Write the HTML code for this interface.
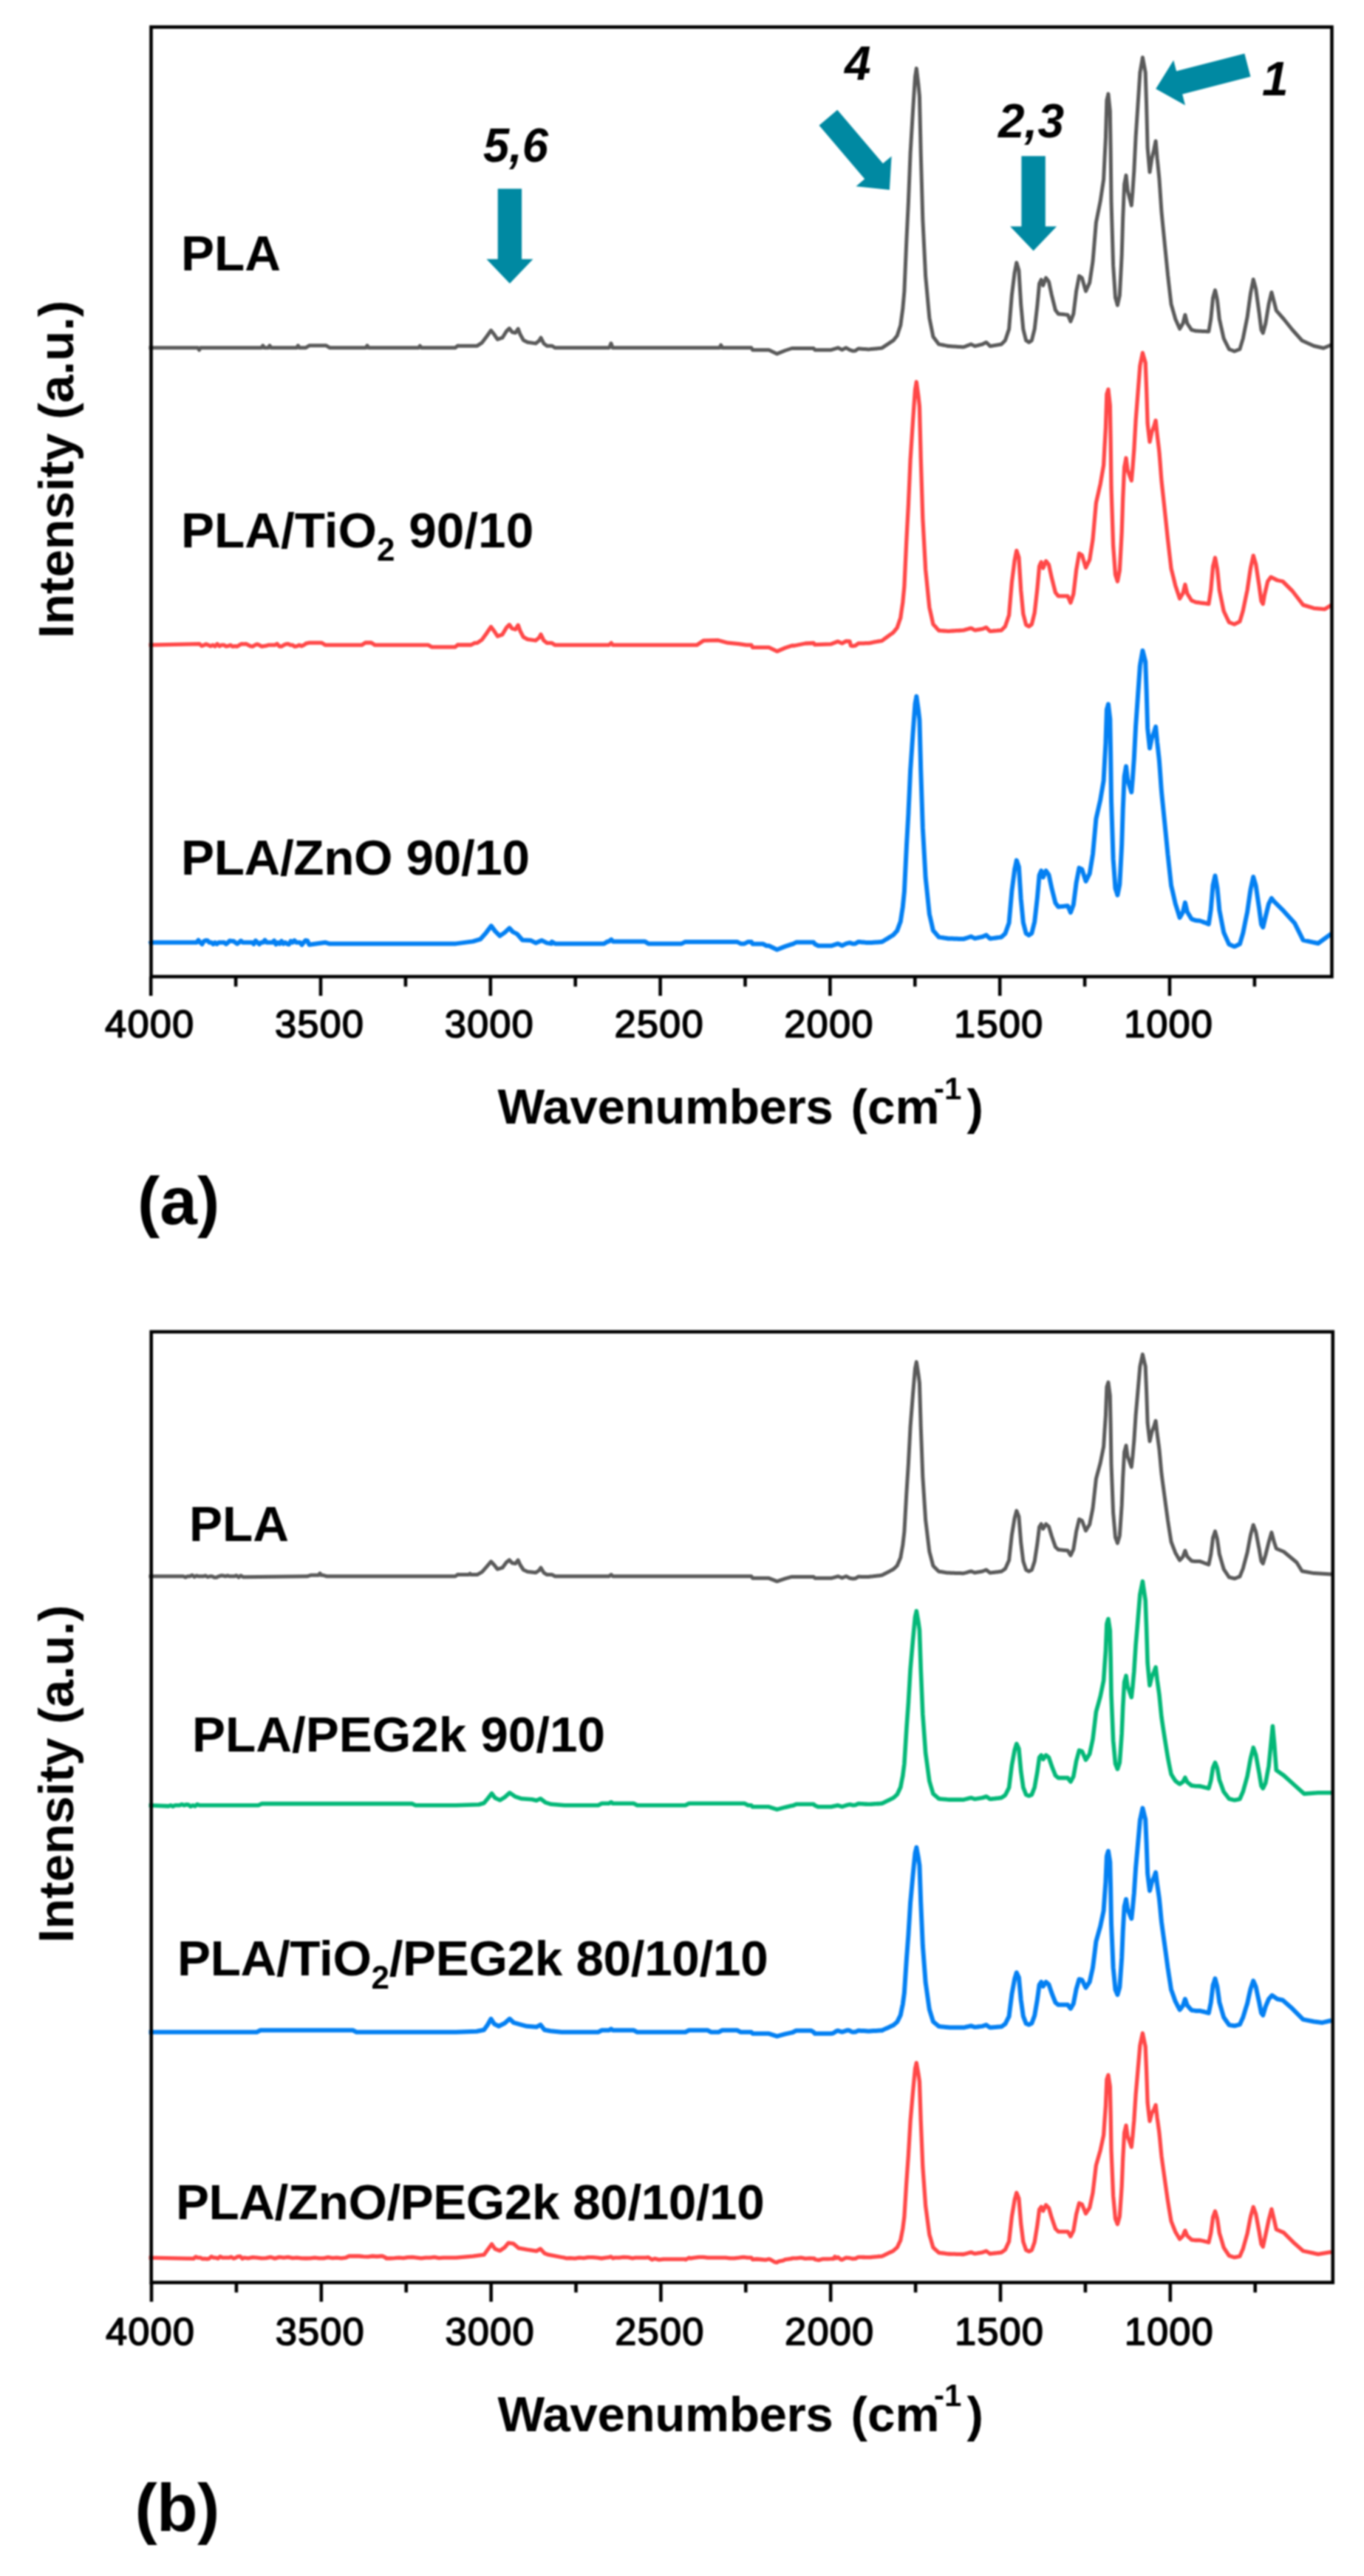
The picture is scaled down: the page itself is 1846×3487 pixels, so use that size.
<!DOCTYPE html>
<html lang="en"><head><meta charset="utf-8"><title>FTIR spectra</title>
<style>html,body{margin:0;padding:0;background:#fff}svg{display:block;filter:blur(1.25px)}text{font-family:"Liberation Sans",Arial,sans-serif;fill:#000}.b{font-weight:bold}.bi{font-weight:bold;font-style:italic}.tk{font-size:52.5px;stroke:#000;stroke-width:1.6px;stroke-linejoin:round;text-anchor:middle;letter-spacing:1.1px}.lb{font-size:67.5px;font-weight:bold}.ax{font-size:67.5px;font-weight:bold}.pn{font-size:91px;font-weight:bold}.nm{font-size:64px;font-weight:bold;font-style:italic}.cv{fill:none;stroke-linejoin:round;stroke-linecap:butt}</style></head><body>
<svg width="1846" height="3487" viewBox="0 0 1846 3487">
<rect width="1846" height="3487" fill="#fff"/>
<g id="plotA">
<path class="cv" d="M201.5 470.8 L267.8 470.8 L269.6 473.8 L271.4 470.8 L354.0 470.8 L355.8 467.8 L357.6 470.8 L363.2 470.8 L365.0 467.8 L366.8 470.8 L401.6 470.8 L403.4 467.8 L405.2 470.8 L413.5 470.8 L418.5 467.8 L441.5 467.8 L446.5 470.8 L495.2 470.8 L497.0 467.8 L498.8 470.8 L566.6 470.8 L568.4 468.2 L570.2 470.8 L616.1 470.8 L619.7 467.9 L620.5 468.2 L645.8 468.2 L652.4 463.8 L659.0 455.0 L664.5 447.3 L668.9 452.8 L673.3 459.4 L679.9 457.2 L685.4 448.4 L689.3 444.6 L693.1 449.5 L697.5 450.6 L701.2 445.1 L704.1 452.8 L708.4 460.5 L713.9 463.3 L724.9 464.9 L729.3 461.6 L732.0 457.2 L735.9 464.9 L740.3 468.2 L746.9 468.2 L751.3 470.8 L823.9 470.8 L825.1 469.9 L826.9 464.8 L827.2 465.2 L828.7 470.0 L829.4 470.8 L860.0 470.8 L973.9 470.8 L975.7 467.2 L977.5 470.8 L1016.8 470.8 L1018.6 473.7 L1040.6 473.7 L1051.6 478.9 L1062.6 474.5 L1071.7 471.5 L1101.1 471.5 L1102.9 473.7 L1124.9 473.7 L1134.1 470.8 L1139.6 473.4 L1145.1 470.8 L1150.0 473.7 L1151.5 474.2 L1153.0 474.7 L1154.2 475.1 L1154.5 475.0 L1156.0 474.9 L1157.5 474.8 L1157.7 474.7 L1159.0 473.8 L1160.5 472.7 L1161.6 471.9 L1162.0 471.9 L1163.5 472.0 L1165.0 472.2 L1166.5 472.3 L1168.0 472.4 L1169.5 472.5 L1171.0 472.6 L1172.5 472.7 L1174.0 472.8 L1175.5 472.9 L1175.7 472.9 L1177.0 472.8 L1178.5 472.6 L1180.0 472.5 L1181.5 472.3 L1183.0 472.2 L1184.5 472.0 L1186.0 471.9 L1187.5 471.7 L1189.0 471.6 L1190.5 471.4 L1192.0 471.3 L1193.5 471.1 L1193.6 471.1 L1195.0 470.2 L1196.5 469.2 L1198.0 468.2 L1199.5 467.2 L1201.0 466.2 L1201.3 466.0 L1202.5 465.2 L1204.0 464.2 L1205.5 463.2 L1207.0 462.2 L1208.5 461.2 L1209.0 460.8 L1210.0 459.6 L1211.5 457.7 L1213.0 455.9 L1214.2 454.4 L1214.5 453.4 L1216.0 448.8 L1217.5 444.2 L1218.8 440.3 L1219.0 438.6 L1220.5 427.3 L1221.9 417.2 L1222.0 415.5 L1223.5 398.7 L1223.9 394.1 L1225.0 368.5 L1226.5 333.5 L1227.0 322.3 L1228.0 301.9 L1229.5 271.9 L1229.5 270.9 L1231.0 234.7 L1232.1 206.8 L1232.5 200.4 L1234.0 175.4 L1235.5 150.4 L1236.0 142.6 L1237.0 127.1 L1238.5 104.6 L1238.5 104.2 L1240.0 94.7 L1240.3 92.6 L1241.5 102.6 L1242.9 114.4 L1243.0 115.5 L1244.4 129.8 L1244.5 132.7 L1246.0 197.0 L1246.2 206.8 L1247.5 251.3 L1248.8 296.6 L1249.0 300.7 L1250.5 330.7 L1252.0 360.7 L1252.6 373.6 L1253.5 383.0 L1255.0 399.5 L1256.5 416.0 L1257.8 430.0 L1258.0 431.2 L1259.5 438.7 L1261.0 446.2 L1262.5 453.7 L1262.9 455.7 L1264.0 457.2 L1265.5 459.2 L1267.0 461.2 L1268.5 463.2 L1270.0 465.2 L1270.6 466.0 L1271.5 466.1 L1273.0 466.4 L1274.5 466.7 L1276.0 467.0 L1277.5 467.3 L1279.0 467.6 L1280.5 467.9 L1282.0 468.2 L1283.4 468.5 L1283.5 468.5 L1285.0 468.6 L1286.5 468.7 L1288.0 468.8 L1289.5 468.9 L1291.0 469.0 L1292.5 469.1 L1294.0 469.2 L1295.5 469.3 L1297.0 469.4 L1298.5 469.5 L1300.0 469.6 L1301.5 469.7 L1303.0 469.8 L1304.0 469.8 L1304.5 469.6 L1306.0 469.1 L1307.5 468.5 L1309.0 467.9 L1310.5 467.4 L1312.0 466.8 L1313.5 466.2 L1314.2 466.0 L1315.0 466.4 L1316.5 467.1 L1318.0 467.9 L1319.4 468.5 L1319.5 468.5 L1321.0 468.1 L1322.5 467.8 L1324.0 467.4 L1325.5 467.0 L1327.0 466.6 L1328.5 466.3 L1329.6 466.0 L1330.0 465.8 L1331.5 465.0 L1333.0 464.3 L1334.5 463.5 L1334.8 463.4 L1336.0 464.6 L1337.5 466.1 L1339.0 467.6 L1339.9 468.5 L1340.5 468.4 L1342.0 468.2 L1343.5 467.9 L1345.0 467.7 L1346.5 467.4 L1348.0 467.2 L1349.5 466.9 L1351.0 466.7 L1352.5 466.4 L1354.0 466.2 L1355.3 466.0 L1355.5 465.8 L1357.0 464.3 L1358.5 462.8 L1360.0 461.3 L1360.4 460.8 L1361.5 457.6 L1363.0 453.1 L1364.5 448.6 L1365.6 445.4 L1366.0 440.0 L1367.5 422.0 L1369.0 404.0 L1369.4 399.3 L1370.5 390.4 L1372.0 378.4 L1373.2 368.5 L1373.5 367.2 L1375.0 359.7 L1375.8 355.6 L1376.5 357.9 L1378.0 362.9 L1378.9 365.9 L1379.5 375.8 L1381.0 400.4 L1381.7 412.1 L1382.5 420.6 L1384.0 436.8 L1384.8 445.4 L1385.5 448.3 L1387.0 454.3 L1388.5 460.3 L1388.6 460.8 L1390.0 461.7 L1391.5 462.7 L1392.5 463.4 L1393.0 463.1 L1394.5 462.1 L1396.0 461.1 L1396.3 460.8 L1397.5 456.2 L1399.0 450.2 L1400.2 445.4 L1400.5 442.8 L1402.0 429.8 L1403.5 416.8 L1404.0 412.1 L1405.0 401.5 L1406.5 385.0 L1406.6 383.9 L1408.0 381.1 L1409.2 378.7 L1409.5 379.7 L1411.0 384.2 L1411.7 386.4 L1412.5 384.4 L1414.0 380.4 L1415.5 376.4 L1415.6 376.2 L1417.0 378.0 L1418.5 380.0 L1419.4 381.3 L1420.0 383.9 L1421.5 390.9 L1423.0 397.9 L1423.3 399.3 L1424.5 404.1 L1426.0 410.1 L1427.5 416.1 L1428.4 419.8 L1429.0 420.6 L1430.5 422.6 L1432.0 424.6 L1432.3 424.9 L1433.5 425.0 L1435.0 425.2 L1436.5 425.3 L1438.0 425.5 L1439.5 425.6 L1441.0 425.8 L1442.5 425.9 L1444.0 426.1 L1445.1 426.2 L1445.5 427.1 L1447.0 430.6 L1448.5 434.1 L1448.9 435.2 L1450.0 432.4 L1451.5 428.4 L1452.8 424.9 L1453.0 423.3 L1454.5 411.3 L1456.0 399.3 L1456.6 394.1 L1457.5 389.6 L1459.0 381.6 L1460.5 373.6 L1460.5 373.6 L1462.0 374.6 L1463.5 375.6 L1464.3 376.2 L1465.0 378.5 L1466.5 383.7 L1468.0 389.0 L1469.5 394.1 L1469.5 394.1 L1471.0 390.8 L1472.5 387.4 L1474.0 384.1 L1474.7 382.6 L1475.5 377.2 L1477.0 367.2 L1478.5 357.2 L1479.0 353.6 L1480.0 342.0 L1481.5 324.0 L1483.0 306.0 L1483.4 301.3 L1484.5 295.8 L1486.0 288.3 L1487.5 280.8 L1489.0 273.3 L1489.2 272.3 L1490.5 263.6 L1492.0 253.6 L1493.5 243.6 L1493.6 243.3 L1495.0 214.3 L1496.5 185.2 L1496.5 183.7 L1497.9 135.8 L1498.0 135.4 L1499.5 129.0 L1499.9 127.1 L1501.0 137.7 L1502.3 150.3 L1502.5 163.7 L1503.1 199.7 L1504.0 271.7 L1504.0 272.3 L1505.5 322.1 L1506.6 359.4 L1507.0 365.1 L1508.5 387.6 L1509.5 403.0 L1510.0 404.6 L1511.5 409.9 L1512.4 413.1 L1513.0 410.5 L1514.5 403.8 L1515.3 400.0 L1516.0 387.3 L1517.5 358.8 L1518.2 344.9 L1519.0 318.9 L1519.7 295.5 L1520.5 276.9 L1521.7 249.1 L1522.0 247.7 L1523.5 240.2 L1524.0 237.4 L1525.0 247.0 L1526.1 257.8 L1526.5 259.4 L1528.0 265.0 L1528.4 266.5 L1529.5 270.9 L1531.0 276.9 L1531.3 278.1 L1532.5 263.7 L1532.8 260.7 L1534.0 242.9 L1534.8 231.6 L1535.5 217.3 L1537.0 187.3 L1537.1 185.2 L1538.5 164.3 L1540.0 141.8 L1540.0 141.6 L1541.5 119.3 L1542.9 98.1 L1543.0 97.6 L1544.5 88.8 L1546.0 80.1 L1546.4 77.7 L1547.5 83.7 L1549.0 91.7 L1550.2 98.1 L1550.5 107.8 L1551.6 141.6 L1552.0 156.6 L1553.1 199.7 L1553.5 204.6 L1555.0 221.8 L1556.0 233.1 L1556.5 229.7 L1558.0 220.0 L1558.9 214.2 L1559.5 211.8 L1561.0 205.8 L1561.8 202.6 L1562.5 199.0 L1564.0 191.5 L1564.1 191.0 L1565.5 206.9 L1566.1 214.2 L1567.0 222.8 L1568.5 237.8 L1569.0 243.3 L1570.0 257.5 L1571.5 280.0 L1572.0 286.8 L1573.0 297.3 L1574.5 312.3 L1576.0 327.3 L1576.3 330.4 L1577.5 342.3 L1579.0 357.3 L1580.5 372.3 L1580.7 373.9 L1582.0 385.5 L1583.5 398.5 L1585.0 411.5 L1585.0 411.7 L1586.5 416.8 L1588.0 422.1 L1589.5 427.3 L1590.8 432.0 L1591.0 432.4 L1592.5 435.8 L1594.0 439.1 L1595.5 442.5 L1596.6 445.1 L1597.0 444.4 L1598.5 441.9 L1600.0 439.4 L1601.0 437.8 L1601.5 435.7 L1603.0 429.7 L1603.9 426.2 L1604.5 428.6 L1606.0 434.6 L1606.8 437.8 L1607.5 438.9 L1609.0 441.1 L1610.5 443.4 L1612.0 445.6 L1612.6 446.5 L1613.5 446.7 L1615.0 447.1 L1616.5 447.5 L1618.0 447.9 L1618.4 448.0 L1619.5 448.0 L1621.0 448.1 L1622.5 448.2 L1624.0 448.2 L1624.2 448.2 L1625.5 448.3 L1627.0 448.4 L1628.5 448.5 L1630.0 448.5 L1631.5 448.6 L1633.0 448.7 L1634.5 448.8 L1635.8 448.8 L1636.0 447.8 L1637.5 439.1 L1638.7 432.0 L1639.0 429.3 L1640.5 414.3 L1641.6 403.0 L1642.0 401.7 L1643.5 396.4 L1644.5 392.8 L1645.0 394.9 L1646.5 401.6 L1647.4 405.9 L1648.0 410.9 L1649.5 424.4 L1650.3 432.0 L1651.0 434.9 L1652.5 441.7 L1654.0 448.4 L1655.5 455.2 L1656.2 458.1 L1657.0 459.8 L1658.5 462.8 L1660.0 465.8 L1661.5 468.8 L1663.0 471.8 L1663.4 472.6 L1664.5 473.1 L1666.0 473.7 L1667.5 474.3 L1669.0 474.9 L1670.5 475.5 L1670.7 475.5 L1672.0 475.0 L1673.5 474.4 L1675.0 473.8 L1676.5 473.2 L1677.9 472.6 L1678.0 472.4 L1679.5 467.4 L1681.0 462.4 L1682.3 458.1 L1682.5 457.1 L1684.0 449.6 L1685.5 442.1 L1687.0 434.6 L1688.1 429.1 L1688.5 426.1 L1690.0 415.1 L1691.5 404.1 L1692.5 397.1 L1693.0 394.4 L1694.5 386.9 L1696.0 379.4 L1696.2 378.3 L1697.5 383.0 L1699.0 388.7 L1699.7 391.3 L1700.5 397.1 L1702.0 408.1 L1703.5 419.1 L1704.1 423.3 L1705.0 430.8 L1706.5 442.8 L1707.0 446.5 L1708.0 448.4 L1709.3 450.9 L1712.8 437.8 L1717.1 411.7 L1720.9 395.7 L1724.4 408.8 L1727.3 420.4 L1737.5 432.0 L1749.1 446.5 L1762.1 461.0 L1778.1 468.3 L1791.2 471.2 L1801.9 466.8" stroke="#5a5a5a" stroke-width="5.0"/>
<path class="cv" d="M201.5 873.2 L270.0 871.6 L273.0 874.4 L276.0 873.2 L279.0 872.0 L282.0 873.2 L285.0 874.7 L288.0 873.2 L291.0 874.8 L294.0 871.7 L297.0 874.7 L300.0 873.2 L303.0 873.2 L306.0 874.8 L309.0 874.3 L312.0 873.2 L315.0 875.2 L318.0 874.7 L321.0 875.1 L324.0 873.2 L327.0 871.6 L330.0 871.8 L333.0 871.7 L336.0 873.2 L339.0 874.7 L342.0 875.1 L345.0 873.2 L348.0 872.1 L351.0 873.2 L354.0 875.0 L357.0 874.6 L360.0 874.2 L363.0 873.2 L366.0 873.2 L369.0 873.2 L372.0 873.2 L375.0 871.4 L378.0 874.8 L381.0 875.0 L384.0 873.2 L387.0 871.9 L390.0 871.7 L393.0 873.2 L396.0 873.2 L399.0 875.2 L402.0 874.6 L405.0 873.2 L408.0 874.5 L411.0 873.2 L413.5 871.8 L414.0 871.1 L418.5 870.2 L435.5 870.2 L440.5 873.2 L489.5 873.2 L494.5 870.0 L502.5 870.0 L507.5 873.2 L579.5 873.2 L584.5 875.8 L616.1 875.8 L619.7 872.7 L620.5 873.0 L637.5 873.0 L642.5 870.4 L645.8 870.4 L652.4 865.8 L659.0 856.6 L664.5 848.5 L668.9 854.3 L673.3 861.2 L679.9 858.9 L685.4 849.7 L689.3 845.7 L693.1 850.8 L697.5 852.0 L701.2 846.2 L704.1 854.3 L708.4 862.4 L713.9 865.4 L724.9 867.0 L729.3 863.5 L732.0 858.9 L735.9 867.0 L740.3 870.4 L746.9 870.4 L751.3 873.2 L823.9 873.2 L827.2 870.4 L829.4 873.2 L860.0 873.2 L943.0 873.2 L952.0 867.2 L972.0 866.7 L985.0 870.2 L1000.0 871.7 L1010.0 873.2 L1016.8 873.2 L1018.6 876.3 L1040.6 876.3 L1051.6 881.7 L1062.6 877.0 L1071.7 874.0 L1075.0 874.0 L1090.0 871.0 L1101.1 870.5 L1102.9 872.7 L1124.9 871.8 L1134.1 868.3 L1139.6 870.8 L1145.1 867.9 L1150.0 868.2 L1151.5 874.0 L1153.0 874.3 L1154.2 874.5 L1154.5 874.5 L1156.0 874.2 L1157.5 874.0 L1157.7 873.9 L1159.0 872.9 L1160.5 871.8 L1161.6 871.0 L1162.0 871.0 L1163.5 870.9 L1165.0 870.9 L1166.5 870.8 L1168.0 870.8 L1169.5 870.8 L1171.0 870.7 L1172.5 870.7 L1174.0 870.6 L1175.5 870.6 L1175.7 870.6 L1177.0 870.3 L1178.5 870.1 L1180.0 869.8 L1181.5 869.5 L1183.0 869.2 L1184.5 868.9 L1186.0 868.7 L1187.5 868.4 L1189.0 868.1 L1190.5 867.8 L1192.0 867.6 L1193.5 867.3 L1193.6 867.3 L1195.0 866.3 L1196.5 865.2 L1198.0 864.1 L1199.5 863.0 L1201.0 861.9 L1201.3 861.7 L1202.5 860.8 L1204.0 859.7 L1205.5 858.6 L1207.0 857.6 L1208.5 856.5 L1209.0 856.1 L1210.0 854.9 L1211.5 853.0 L1213.0 851.1 L1214.2 849.7 L1214.5 848.6 L1216.0 844.3 L1217.5 839.9 L1218.8 836.3 L1219.0 834.7 L1220.5 824.2 L1221.9 814.9 L1222.0 813.3 L1223.5 797.8 L1223.9 793.6 L1225.0 770.1 L1226.5 738.1 L1227.0 727.8 L1228.0 709.1 L1229.5 681.6 L1229.5 680.7 L1231.0 647.5 L1232.1 622.0 L1232.5 616.1 L1234.0 593.1 L1235.5 570.2 L1236.0 563.1 L1237.0 548.8 L1238.5 528.1 L1238.5 527.7 L1240.0 518.9 L1240.3 517.0 L1241.5 525.8 L1242.9 536.2 L1243.0 537.1 L1244.4 549.8 L1244.5 552.5 L1246.0 610.8 L1246.2 619.7 L1247.5 660.1 L1248.8 701.3 L1249.0 705.0 L1250.5 732.2 L1252.0 759.4 L1252.6 771.0 L1253.5 779.5 L1255.0 794.4 L1256.5 809.4 L1257.8 822.1 L1258.0 823.1 L1259.5 829.7 L1261.0 836.4 L1262.5 843.2 L1262.9 845.0 L1264.0 846.2 L1265.5 847.8 L1267.0 849.5 L1268.5 851.2 L1270.0 852.8 L1270.6 853.5 L1271.5 853.6 L1273.0 853.7 L1274.5 853.8 L1276.0 853.9 L1277.5 854.0 L1279.0 854.1 L1280.5 854.2 L1282.0 854.3 L1283.4 854.4 L1283.5 854.4 L1285.0 854.3 L1286.5 854.2 L1288.0 854.1 L1289.5 854.0 L1291.0 853.9 L1292.5 853.8 L1294.0 853.7 L1295.5 853.6 L1297.0 853.6 L1298.5 853.5 L1300.0 853.4 L1301.5 853.3 L1303.0 853.2 L1304.0 853.1 L1304.5 853.0 L1306.0 852.6 L1307.5 852.1 L1309.0 851.7 L1310.5 851.3 L1312.0 850.9 L1313.5 850.5 L1314.2 850.3 L1315.0 850.7 L1316.5 851.5 L1318.0 852.3 L1319.4 853.0 L1319.5 853.0 L1321.0 852.8 L1322.5 852.5 L1324.0 852.3 L1325.5 852.0 L1327.0 851.8 L1328.5 851.5 L1329.6 851.3 L1330.0 851.2 L1331.5 850.6 L1333.0 850.0 L1334.5 849.4 L1334.8 849.3 L1336.0 850.5 L1337.5 852.1 L1339.0 853.6 L1339.9 854.5 L1340.5 854.4 L1342.0 854.3 L1343.5 854.2 L1345.0 854.0 L1346.5 853.9 L1348.0 853.8 L1349.5 853.7 L1351.0 853.5 L1352.5 853.4 L1354.0 853.3 L1355.3 853.1 L1355.5 852.9 L1357.0 851.4 L1358.5 849.8 L1360.0 848.3 L1360.4 847.9 L1361.5 844.7 L1363.0 840.3 L1364.5 835.8 L1365.6 832.7 L1366.0 827.5 L1367.5 810.1 L1369.0 792.7 L1369.4 788.0 L1370.5 779.5 L1372.0 767.8 L1373.2 758.0 L1373.5 756.8 L1375.0 749.4 L1375.8 745.4 L1376.5 747.4 L1378.0 751.9 L1378.9 754.6 L1379.5 764.0 L1381.0 787.6 L1381.7 798.9 L1382.5 807.0 L1384.0 822.7 L1384.8 831.0 L1385.5 833.7 L1387.0 839.4 L1388.5 845.2 L1388.6 845.8 L1390.0 846.6 L1391.5 847.4 L1392.5 848.0 L1393.0 847.6 L1394.5 846.5 L1396.0 845.4 L1396.3 845.2 L1397.5 840.5 L1399.0 834.4 L1400.2 829.5 L1400.5 826.8 L1402.0 813.5 L1403.5 800.3 L1404.0 795.4 L1405.0 784.6 L1406.5 767.7 L1406.6 766.5 L1408.0 763.4 L1409.2 760.8 L1409.5 761.8 L1411.0 766.7 L1411.7 769.0 L1412.5 767.1 L1414.0 763.4 L1415.5 759.7 L1415.6 759.5 L1417.0 761.2 L1418.5 763.1 L1419.4 764.3 L1420.0 766.8 L1421.5 773.7 L1423.0 780.6 L1423.3 781.9 L1424.5 786.7 L1426.0 792.6 L1427.5 798.5 L1428.4 802.1 L1429.0 802.8 L1430.5 804.7 L1432.0 806.6 L1432.3 806.9 L1433.5 806.9 L1435.0 806.9 L1436.5 806.9 L1438.0 806.9 L1439.5 806.9 L1441.0 806.9 L1442.5 806.9 L1444.0 806.9 L1445.1 806.9 L1445.5 807.9 L1447.0 811.4 L1448.5 814.9 L1448.9 815.9 L1450.0 812.7 L1451.5 808.1 L1452.8 804.1 L1453.0 802.4 L1454.5 789.7 L1456.0 777.0 L1456.6 771.5 L1457.5 766.6 L1459.0 757.9 L1460.5 749.2 L1460.5 749.2 L1462.0 750.0 L1463.5 750.9 L1464.3 751.3 L1465.0 753.5 L1466.5 758.6 L1468.0 763.6 L1469.5 768.5 L1469.5 768.4 L1471.0 765.2 L1472.5 762.1 L1474.0 759.0 L1474.7 757.6 L1475.5 752.3 L1477.0 742.8 L1478.5 733.3 L1479.0 730.0 L1480.0 719.0 L1481.5 702.0 L1483.0 685.2 L1483.4 680.9 L1484.5 675.9 L1486.0 669.3 L1487.5 662.7 L1489.0 656.2 L1489.2 655.3 L1490.5 647.7 L1492.0 639.0 L1493.5 630.4 L1493.6 630.1 L1495.0 604.0 L1496.5 577.9 L1496.5 576.6 L1497.9 533.6 L1498.0 533.3 L1499.5 528.5 L1499.9 527.1 L1501.0 537.1 L1502.3 548.9 L1502.5 561.1 L1503.1 593.9 L1504.0 659.4 L1504.0 659.9 L1505.5 705.1 L1506.6 738.8 L1507.0 744.0 L1508.5 764.2 L1509.5 778.0 L1510.0 779.5 L1511.5 784.1 L1512.4 787.0 L1513.0 784.1 L1514.5 776.5 L1515.3 772.3 L1516.0 760.2 L1517.5 733.4 L1518.2 720.2 L1519.0 696.4 L1519.7 675.1 L1520.5 657.9 L1521.7 632.2 L1522.0 630.7 L1523.5 622.9 L1524.0 620.0 L1525.0 627.8 L1526.1 636.5 L1526.5 637.6 L1528.0 641.5 L1528.4 642.5 L1529.5 645.6 L1531.0 649.7 L1531.3 650.5 L1532.5 637.6 L1532.8 634.9 L1534.0 619.2 L1534.8 609.3 L1535.5 596.9 L1537.0 570.9 L1537.1 569.0 L1538.5 551.0 L1540.0 531.8 L1540.0 531.6 L1541.5 512.6 L1542.9 494.7 L1543.0 494.3 L1544.5 487.0 L1546.0 479.7 L1546.4 477.7 L1547.5 481.6 L1549.0 486.8 L1550.2 490.9 L1550.5 498.7 L1551.6 525.8 L1552.0 538.0 L1553.1 573.0 L1553.5 576.7 L1555.0 589.7 L1556.0 598.2 L1556.5 595.8 L1558.0 588.8 L1558.9 584.7 L1559.5 583.1 L1561.0 579.2 L1561.8 577.2 L1562.5 574.8 L1564.0 569.6 L1564.1 569.2 L1565.5 582.3 L1566.1 588.4 L1567.0 595.6 L1568.5 608.3 L1569.0 613.0 L1570.0 625.3 L1571.5 645.1 L1572.0 651.0 L1573.0 660.4 L1574.5 674.0 L1576.0 687.8 L1576.3 690.7 L1577.5 701.8 L1579.0 716.0 L1580.5 730.4 L1580.7 731.9 L1582.0 743.3 L1583.5 756.2 L1585.0 769.3 L1585.0 769.5 L1586.5 775.3 L1588.0 781.4 L1589.5 787.5 L1590.8 792.9 L1591.0 793.4 L1592.5 797.8 L1594.0 802.3 L1595.5 806.8 L1596.6 810.2 L1597.0 809.6 L1598.5 807.2 L1600.0 804.7 L1601.0 803.1 L1601.5 801.1 L1603.0 795.0 L1603.9 791.3 L1604.5 793.9 L1606.0 800.1 L1606.8 803.4 L1607.5 804.6 L1609.0 807.0 L1610.5 809.5 L1612.0 811.9 L1612.6 812.9 L1613.5 813.3 L1615.0 813.8 L1616.5 814.4 L1618.0 814.9 L1618.4 815.1 L1619.5 815.3 L1621.0 815.5 L1622.5 815.7 L1624.0 816.0 L1624.2 816.0 L1625.5 816.2 L1627.0 816.4 L1628.5 816.5 L1630.0 816.7 L1631.5 816.9 L1633.0 817.1 L1634.5 817.3 L1635.8 817.5 L1636.0 816.4 L1637.5 806.8 L1638.7 798.9 L1639.0 796.0 L1640.5 779.4 L1641.6 766.7 L1642.0 765.3 L1643.5 759.3 L1644.5 755.0 L1645.0 757.4 L1646.5 765.2 L1647.4 770.0 L1648.0 775.6 L1649.5 790.5 L1650.3 798.9 L1651.0 802.1 L1652.5 809.5 L1654.0 816.8 L1655.5 824.1 L1656.2 827.2 L1657.0 829.0 L1658.5 832.2 L1660.0 835.3 L1661.5 838.5 L1663.0 841.5 L1663.4 842.4 L1664.5 842.8 L1666.0 843.3 L1667.5 843.9 L1669.0 844.4 L1670.5 845.0 L1670.7 845.1 L1672.0 844.3 L1673.5 843.5 L1675.0 842.8 L1676.5 842.0 L1677.9 841.2 L1678.0 841.0 L1679.5 835.9 L1681.0 830.9 L1682.3 826.6 L1682.5 825.6 L1684.0 818.3 L1685.5 811.0 L1687.0 803.8 L1688.1 798.7 L1688.5 795.9 L1690.0 785.6 L1691.5 775.4 L1692.5 769.0 L1693.0 766.5 L1694.5 759.8 L1696.0 753.1 L1696.2 752.1 L1697.5 756.4 L1699.0 761.4 L1699.7 763.8 L1700.5 769.0 L1702.0 779.0 L1703.5 788.9 L1704.1 792.7 L1705.0 799.5 L1706.5 810.3 L1707.0 813.7 L1708.0 815.4 L1709.3 817.5 L1711.3 805.9 L1715.7 787.0 L1720.0 781.2 L1728.7 785.5 L1736.0 787.0 L1749.1 800.0 L1763.6 818.9 L1778.1 823.3 L1792.6 824.7 L1801.9 818.9" stroke="#ff4848" stroke-width="5.3"/>
<path class="cv" d="M201.5 1277.4 L201.5 1277.4 L206.5 1275.8 L266.0 1275.8 L268.5 1272.7 L271.0 1275.8 L273.5 1278.0 L276.0 1274.0 L278.5 1273.1 L281.0 1273.3 L283.5 1275.8 L286.0 1275.8 L288.5 1278.0 L291.0 1275.8 L293.5 1277.8 L296.0 1275.8 L298.5 1275.8 L301.0 1275.8 L303.5 1275.8 L306.0 1277.8 L308.5 1275.8 L311.0 1273.5 L313.5 1273.9 L316.0 1273.9 L318.5 1275.8 L321.0 1277.5 L323.5 1275.8 L326.0 1273.6 L328.5 1275.8 L331.0 1275.8 L333.5 1275.8 L336.0 1275.8 L338.5 1275.8 L341.0 1275.8 L343.5 1277.9 L346.0 1273.3 L348.5 1275.8 L351.0 1278.1 L353.5 1275.8 L356.0 1275.8 L358.5 1272.6 L361.0 1275.8 L363.5 1275.8 L366.0 1275.8 L368.5 1275.8 L371.0 1273.4 L373.5 1278.3 L376.0 1275.8 L378.5 1277.5 L381.0 1273.9 L383.5 1277.6 L386.0 1275.8 L388.5 1277.6 L391.0 1278.3 L393.5 1273.9 L396.0 1275.8 L398.5 1273.1 L401.0 1275.8 L403.5 1275.8 L406.0 1275.8 L408.5 1278.9 L411.0 1275.8 L413.5 1273.0 L416.0 1273.4 L418.5 1278.7 L440.5 1275.8 L445.5 1277.4 L616.1 1277.4 L617.0 1277.4 L640.0 1274.4 L650.0 1271.4 L658.0 1262.4 L664.8 1253.4 L670.0 1260.4 L676.5 1266.9 L683.0 1262.4 L689.4 1256.4 L694.0 1261.4 L700.0 1264.4 L707.0 1272.4 L718.0 1272.9 L725.0 1276.4 L733.0 1272.9 L740.0 1276.4 L746.0 1277.4 L746.9 1274.8 L751.3 1277.4 L817.5 1277.4 L822.5 1274.4 L823.9 1274.4 L827.2 1271.8 L829.4 1274.4 L860.0 1274.4 L872.5 1274.4 L877.5 1277.4 L922.5 1277.4 L927.5 1274.9 L997.5 1274.9 L1002.5 1277.4 L1007.5 1277.4 L1012.5 1274.9 L1016.8 1274.9 L1018.6 1277.8 L1032.5 1277.8 L1037.5 1280.3 L1040.6 1280.3 L1051.6 1285.5 L1062.6 1281.1 L1071.7 1278.1 L1072.5 1278.1 L1077.5 1275.6 L1101.1 1275.6 L1102.5 1277.3 L1102.9 1278.0 L1107.5 1280.3 L1124.9 1280.3 L1134.1 1277.4 L1139.6 1280.0 L1145.1 1277.4 L1150.0 1276.2 L1151.5 1276.7 L1153.0 1277.2 L1154.2 1277.5 L1154.5 1277.5 L1156.0 1277.4 L1157.5 1277.4 L1157.7 1277.3 L1159.0 1276.5 L1160.5 1275.6 L1161.6 1275.0 L1162.0 1275.0 L1163.5 1275.1 L1165.0 1275.2 L1166.5 1275.4 L1168.0 1275.5 L1169.5 1275.6 L1171.0 1275.8 L1172.5 1275.9 L1174.0 1276.0 L1175.5 1276.1 L1175.7 1276.1 L1177.0 1276.1 L1178.5 1276.0 L1180.0 1275.9 L1181.5 1275.8 L1183.0 1275.7 L1184.5 1275.6 L1186.0 1275.5 L1187.5 1275.4 L1189.0 1275.3 L1190.5 1275.2 L1192.0 1275.1 L1193.5 1275.0 L1193.6 1274.9 L1195.0 1274.1 L1196.5 1273.2 L1198.0 1272.3 L1199.5 1271.4 L1201.0 1270.5 L1201.3 1270.3 L1202.5 1269.6 L1204.0 1268.6 L1205.5 1267.7 L1207.0 1266.8 L1208.5 1265.9 L1209.0 1265.6 L1210.0 1264.5 L1211.5 1262.8 L1213.0 1261.1 L1214.2 1259.9 L1214.5 1258.9 L1216.0 1254.9 L1217.5 1250.8 L1218.8 1247.4 L1219.0 1245.9 L1220.5 1236.0 L1221.9 1227.1 L1222.0 1225.6 L1223.5 1210.8 L1223.9 1206.9 L1225.0 1184.4 L1226.5 1153.8 L1227.0 1143.9 L1228.0 1126.1 L1229.5 1099.8 L1229.5 1098.9 L1231.0 1067.2 L1232.1 1042.8 L1232.5 1037.1 L1234.0 1015.2 L1235.5 993.3 L1236.0 986.5 L1237.0 972.9 L1238.5 953.2 L1238.5 952.8 L1240.0 944.5 L1240.3 942.6 L1241.5 951.1 L1242.9 961.2 L1243.0 962.1 L1244.4 974.4 L1244.5 977.0 L1246.0 1033.1 L1246.2 1041.6 L1247.5 1080.6 L1248.8 1120.2 L1249.0 1123.8 L1250.5 1150.0 L1252.0 1176.3 L1252.6 1187.6 L1253.5 1195.8 L1255.0 1210.3 L1256.5 1224.8 L1257.8 1237.1 L1258.0 1238.1 L1259.5 1244.7 L1261.0 1251.2 L1262.5 1257.8 L1262.9 1259.6 L1264.0 1260.9 L1265.5 1262.6 L1267.0 1264.3 L1268.5 1266.1 L1270.0 1267.8 L1270.6 1268.5 L1271.5 1268.6 L1273.0 1268.9 L1274.5 1269.1 L1276.0 1269.3 L1277.5 1269.6 L1279.0 1269.8 L1280.5 1270.0 L1282.0 1270.2 L1283.4 1270.5 L1283.5 1270.5 L1285.0 1270.5 L1286.5 1270.6 L1288.0 1270.6 L1289.5 1270.6 L1291.0 1270.7 L1292.5 1270.7 L1294.0 1270.8 L1295.5 1270.8 L1297.0 1270.9 L1298.5 1270.9 L1300.0 1271.0 L1301.5 1271.0 L1303.0 1271.1 L1304.0 1271.1 L1304.5 1270.9 L1306.0 1270.4 L1307.5 1270.0 L1309.0 1269.5 L1310.5 1269.0 L1312.0 1268.5 L1313.5 1268.0 L1314.2 1267.8 L1315.0 1268.2 L1316.5 1268.9 L1318.0 1269.6 L1319.4 1270.2 L1319.5 1270.2 L1321.0 1269.9 L1322.5 1269.6 L1324.0 1269.3 L1325.5 1268.9 L1327.0 1268.6 L1328.5 1268.3 L1329.6 1268.1 L1330.0 1267.9 L1331.5 1267.2 L1333.0 1266.6 L1334.5 1265.9 L1334.8 1265.8 L1336.0 1267.0 L1337.5 1268.4 L1339.0 1269.8 L1339.9 1270.6 L1340.5 1270.5 L1342.0 1270.3 L1343.5 1270.1 L1345.0 1269.9 L1346.5 1269.7 L1348.0 1269.5 L1349.5 1269.3 L1351.0 1269.1 L1352.5 1268.9 L1354.0 1268.7 L1355.3 1268.5 L1355.5 1268.3 L1357.0 1266.9 L1358.5 1265.5 L1360.0 1264.1 L1360.4 1263.8 L1361.5 1260.7 L1363.0 1256.5 L1364.5 1252.3 L1365.6 1249.3 L1366.0 1244.3 L1367.5 1227.4 L1369.0 1210.4 L1369.4 1205.9 L1370.5 1197.6 L1372.0 1186.3 L1373.2 1176.8 L1373.5 1175.6 L1375.0 1168.5 L1375.8 1164.6 L1376.5 1166.6 L1378.0 1170.9 L1378.9 1173.5 L1379.5 1182.8 L1381.0 1205.9 L1381.7 1217.0 L1382.5 1225.0 L1384.0 1240.5 L1384.8 1248.8 L1385.5 1251.4 L1387.0 1257.2 L1388.5 1263.0 L1388.6 1263.5 L1390.0 1264.4 L1391.5 1265.3 L1392.5 1266.0 L1393.0 1265.6 L1394.5 1264.6 L1396.0 1263.5 L1396.3 1263.3 L1397.5 1258.6 L1399.0 1252.5 L1400.2 1247.7 L1400.5 1245.0 L1402.0 1231.8 L1403.5 1218.5 L1404.0 1213.7 L1405.0 1202.8 L1406.5 1185.8 L1406.6 1184.6 L1408.0 1181.4 L1409.2 1178.7 L1409.5 1179.9 L1411.0 1185.0 L1411.7 1187.5 L1412.5 1185.7 L1414.0 1182.3 L1415.5 1178.9 L1415.6 1178.7 L1417.0 1180.7 L1418.5 1182.8 L1419.4 1184.1 L1420.0 1186.7 L1421.5 1193.7 L1423.0 1200.7 L1423.3 1202.0 L1424.5 1206.9 L1426.0 1212.8 L1427.5 1218.7 L1428.4 1222.4 L1429.0 1223.1 L1430.5 1225.1 L1432.0 1227.1 L1432.3 1227.5 L1433.5 1227.4 L1435.0 1227.2 L1436.5 1227.1 L1438.0 1226.9 L1439.5 1226.8 L1441.0 1226.6 L1442.5 1226.5 L1444.0 1226.3 L1445.1 1226.2 L1445.5 1227.1 L1447.0 1230.6 L1448.5 1234.1 L1448.9 1235.2 L1450.0 1232.3 L1451.5 1228.2 L1452.8 1224.7 L1453.0 1223.1 L1454.5 1211.4 L1456.0 1199.8 L1456.6 1194.8 L1457.5 1190.4 L1459.0 1182.6 L1460.5 1174.9 L1460.5 1174.9 L1462.0 1175.6 L1463.5 1176.3 L1464.3 1176.8 L1465.0 1178.8 L1466.5 1183.5 L1468.0 1188.2 L1469.5 1192.8 L1469.5 1192.8 L1471.0 1189.8 L1472.5 1186.9 L1474.0 1183.9 L1474.7 1182.6 L1475.5 1177.6 L1477.0 1168.4 L1478.5 1159.3 L1479.0 1156.1 L1480.0 1145.5 L1481.5 1129.0 L1483.0 1112.7 L1483.4 1108.4 L1484.5 1103.5 L1486.0 1096.8 L1487.5 1090.2 L1489.0 1083.6 L1489.2 1082.8 L1490.5 1075.1 L1492.0 1066.2 L1493.5 1057.4 L1493.6 1057.1 L1495.0 1031.1 L1496.5 1004.9 L1496.5 1003.6 L1497.9 960.5 L1498.0 960.2 L1499.5 954.8 L1499.9 953.2 L1501.0 962.4 L1502.3 973.3 L1502.5 985.4 L1503.1 1017.9 L1504.0 1083.3 L1504.0 1083.8 L1505.5 1128.9 L1506.6 1162.9 L1507.0 1168.1 L1508.5 1188.5 L1509.5 1202.5 L1510.0 1204.0 L1511.5 1208.7 L1512.4 1211.7 L1513.0 1208.8 L1514.5 1201.3 L1515.3 1197.2 L1516.0 1184.9 L1517.5 1157.1 L1518.2 1143.5 L1519.0 1118.5 L1519.7 1096.1 L1520.5 1078.0 L1521.7 1050.7 L1522.0 1049.1 L1523.5 1040.5 L1524.0 1037.4 L1525.0 1046.0 L1526.1 1055.7 L1526.5 1057.0 L1528.0 1061.6 L1528.4 1062.8 L1529.5 1066.4 L1531.0 1071.3 L1531.3 1072.3 L1532.5 1058.2 L1532.8 1055.2 L1534.0 1037.9 L1534.8 1027.1 L1535.5 1013.5 L1537.0 985.0 L1537.1 983.0 L1538.5 963.1 L1540.0 941.7 L1540.0 941.5 L1541.5 920.5 L1542.9 900.5 L1543.0 900.0 L1544.5 891.4 L1546.0 882.9 L1546.4 880.7 L1547.5 885.1 L1549.0 891.1 L1550.2 895.8 L1550.5 904.4 L1551.6 934.0 L1552.0 947.2 L1553.1 985.2 L1553.5 989.2 L1555.0 1003.4 L1556.0 1012.8 L1556.5 1010.3 L1558.0 1003.1 L1558.9 998.9 L1559.5 997.4 L1561.0 993.6 L1561.8 991.6 L1562.5 989.2 L1564.0 984.1 L1564.1 983.7 L1565.5 997.9 L1566.1 1004.5 L1567.0 1012.2 L1568.5 1025.9 L1569.0 1031.0 L1570.0 1044.2 L1571.5 1065.4 L1572.0 1071.8 L1573.0 1081.9 L1574.5 1096.5 L1576.0 1111.2 L1576.3 1114.3 L1577.5 1126.2 L1579.0 1141.4 L1580.5 1156.8 L1580.7 1158.4 L1582.0 1170.6 L1583.5 1184.4 L1585.0 1198.3 L1585.0 1198.5 L1586.5 1204.8 L1588.0 1211.2 L1589.5 1217.8 L1590.8 1223.6 L1591.0 1224.1 L1592.5 1228.9 L1594.0 1233.7 L1595.5 1238.5 L1596.6 1242.1 L1597.0 1241.5 L1598.5 1238.9 L1600.0 1236.2 L1601.0 1234.4 L1601.5 1232.2 L1603.0 1225.7 L1603.9 1221.8 L1604.5 1224.4 L1606.0 1230.9 L1606.8 1234.4 L1607.5 1235.5 L1609.0 1238.0 L1610.5 1240.5 L1612.0 1243.0 L1612.6 1244.0 L1613.5 1244.3 L1615.0 1244.8 L1616.5 1245.3 L1618.0 1245.8 L1618.4 1245.9 L1619.5 1246.0 L1621.0 1246.2 L1622.5 1246.3 L1624.0 1246.5 L1624.2 1246.5 L1625.5 1247.0 L1627.0 1247.5 L1628.5 1248.1 L1630.0 1248.7 L1631.5 1249.2 L1633.0 1249.8 L1634.5 1250.4 L1635.8 1250.9 L1636.0 1249.7 L1637.5 1239.7 L1638.7 1231.4 L1639.0 1228.4 L1640.5 1211.0 L1641.6 1197.7 L1642.0 1196.2 L1643.5 1189.9 L1644.5 1185.5 L1645.0 1188.1 L1646.5 1196.3 L1647.4 1201.5 L1648.0 1207.4 L1649.5 1223.1 L1650.3 1232.0 L1651.0 1235.4 L1652.5 1243.3 L1654.0 1251.1 L1655.5 1258.7 L1656.2 1262.1 L1657.0 1264.0 L1658.5 1267.4 L1660.0 1270.7 L1661.5 1274.1 L1663.0 1277.4 L1663.4 1278.3 L1664.5 1278.7 L1666.0 1279.4 L1667.5 1280.0 L1669.0 1280.7 L1670.5 1281.3 L1670.7 1281.3 L1672.0 1280.7 L1673.5 1280.0 L1675.0 1279.2 L1676.5 1278.5 L1677.9 1277.8 L1678.0 1277.6 L1679.5 1272.4 L1681.0 1267.3 L1682.3 1262.9 L1682.5 1261.9 L1684.0 1254.4 L1685.5 1246.9 L1687.0 1239.6 L1688.1 1234.3 L1688.5 1231.5 L1690.0 1220.9 L1691.5 1210.5 L1692.5 1204.0 L1693.0 1201.5 L1694.5 1194.7 L1696.0 1188.0 L1696.2 1187.0 L1697.5 1191.5 L1699.0 1196.7 L1699.7 1199.2 L1700.5 1204.7 L1702.0 1215.0 L1703.5 1225.4 L1704.1 1229.3 L1705.0 1236.4 L1706.5 1247.7 L1707.0 1251.2 L1708.0 1253.0 L1709.3 1255.2 L1712.8 1240.7 L1717.1 1223.3 L1720.9 1216.0 L1724.4 1220.4 L1737.5 1233.4 L1752.0 1249.4 L1763.6 1272.6 L1783.9 1277.0 L1801.9 1263.9" stroke="#0480f2" stroke-width="6.0"/>
<rect x="204.5" y="36.6" width="1598.0" height="1285.4" fill="none" stroke="#000" stroke-width="4.6"/>
<path d="M204.2 1322.0 v26.0 M319.1 1322.0 v13.5 M434.0 1322.0 v26.0 M548.9 1322.0 v13.5 M663.8 1322.0 v26.0 M778.7 1322.0 v13.5 M893.6 1322.0 v26.0 M1008.5 1322.0 v13.5 M1123.4 1322.0 v26.0 M1238.3 1322.0 v13.5 M1353.2 1322.0 v26.0 M1468.1 1322.0 v13.5 M1583.0 1322.0 v26.0 M1697.9 1322.0 v13.5 " stroke="#000" stroke-width="4.6" fill="none"/>
<text class="tk" x="202.7" y="1404.0">4000</text>
<text class="tk" x="432.5" y="1404.0">3500</text>
<text class="tk" x="662.3" y="1404.0">3000</text>
<text class="tk" x="892.1" y="1404.0">2500</text>
<text class="tk" x="1121.9" y="1404.0">2000</text>
<text class="tk" x="1351.7" y="1404.0">1500</text>
<text class="tk" x="1581.5" y="1404.0">1000</text>
</g>
<g id="plotB">
<path class="cv" d="M201.5 2133.8 L245.0 2133.8 L248.0 2133.8 L251.0 2135.1 L254.0 2133.8 L257.0 2133.8 L260.0 2132.3 L263.0 2134.6 L266.0 2133.0 L269.0 2133.8 L272.0 2133.8 L275.0 2133.8 L278.0 2132.9 L281.0 2134.7 L284.0 2133.8 L287.0 2133.8 L290.0 2135.3 L293.0 2135.3 L296.0 2133.8 L299.0 2132.8 L302.0 2133.0 L305.0 2133.8 L308.0 2132.8 L311.0 2133.8 L314.0 2133.8 L317.0 2133.8 L320.0 2132.7 L323.0 2135.1 L326.0 2132.8 L329.0 2134.7 L415.5 2133.8 L420.5 2132.3 L431.2 2132.3 L433.0 2129.8 L434.8 2132.3 L437.5 2132.3 L442.5 2133.8 L616.1 2133.8 L619.7 2131.3 L620.5 2131.6 L634.2 2131.6 L636.0 2130.1 L637.8 2131.6 L645.8 2131.6 L652.4 2127.8 L659.0 2120.3 L664.5 2113.8 L668.9 2118.5 L673.3 2124.1 L679.9 2122.2 L685.4 2114.7 L689.3 2111.6 L693.1 2115.7 L697.5 2116.6 L701.2 2111.9 L704.1 2118.5 L708.4 2125.0 L713.9 2127.5 L724.9 2128.8 L729.3 2126.0 L732.0 2122.2 L735.9 2128.8 L740.3 2131.6 L746.9 2131.6 L751.3 2133.8 L823.9 2133.8 L827.2 2131.6 L829.4 2133.8 L860.0 2133.8 L1016.8 2133.8 L1018.6 2136.3 L1040.6 2136.3 L1051.6 2140.6 L1062.6 2136.9 L1071.7 2134.4 L1101.1 2134.4 L1102.9 2136.3 L1124.9 2136.3 L1134.1 2133.8 L1139.6 2136.0 L1145.1 2133.8 L1150.0 2136.2 L1151.5 2136.5 L1153.0 2136.8 L1154.2 2137.0 L1154.5 2137.0 L1156.0 2136.8 L1157.5 2136.7 L1157.7 2136.6 L1159.0 2135.9 L1160.5 2135.0 L1161.6 2134.3 L1162.0 2134.3 L1163.5 2134.3 L1165.0 2134.4 L1166.5 2134.4 L1168.0 2134.4 L1169.5 2134.4 L1171.0 2134.4 L1172.5 2134.4 L1174.0 2134.5 L1175.5 2134.5 L1175.7 2134.5 L1177.0 2134.3 L1178.5 2134.1 L1180.0 2133.9 L1181.5 2133.8 L1183.0 2133.6 L1184.5 2133.4 L1186.0 2133.2 L1187.5 2133.0 L1189.0 2132.9 L1190.5 2132.7 L1192.0 2132.5 L1193.5 2132.3 L1193.6 2132.3 L1195.0 2131.6 L1196.5 2130.8 L1198.0 2130.0 L1199.5 2129.2 L1201.0 2128.5 L1201.3 2128.3 L1202.5 2127.7 L1204.0 2126.9 L1205.5 2126.1 L1207.0 2125.3 L1208.5 2124.5 L1209.0 2124.3 L1210.0 2123.3 L1211.5 2121.9 L1213.0 2120.4 L1214.2 2119.3 L1214.5 2118.5 L1216.0 2115.0 L1217.5 2111.5 L1218.8 2108.5 L1219.0 2107.2 L1220.5 2098.6 L1221.9 2090.9 L1222.0 2089.6 L1223.5 2076.7 L1223.9 2073.3 L1225.0 2053.8 L1226.5 2027.1 L1227.0 2018.6 L1228.0 2003.1 L1229.5 1980.2 L1229.5 1979.5 L1231.0 1951.8 L1232.1 1930.6 L1232.5 1925.7 L1234.0 1906.7 L1235.5 1887.6 L1236.0 1881.8 L1237.0 1869.9 L1238.5 1852.8 L1238.5 1852.4 L1240.0 1845.2 L1240.3 1843.6 L1241.5 1851.2 L1242.9 1860.2 L1243.0 1861.1 L1244.4 1871.9 L1244.5 1874.2 L1246.0 1923.1 L1246.2 1930.5 L1247.5 1964.4 L1248.8 1998.8 L1249.0 2001.9 L1250.5 2024.7 L1252.0 2047.5 L1252.6 2057.3 L1253.5 2064.5 L1255.0 2077.0 L1256.5 2089.5 L1257.8 2100.2 L1258.0 2101.0 L1259.5 2106.7 L1261.0 2112.4 L1262.5 2118.1 L1262.9 2119.6 L1264.0 2120.7 L1265.5 2122.2 L1267.0 2123.7 L1268.5 2125.2 L1270.0 2126.7 L1270.6 2127.3 L1271.5 2127.4 L1273.0 2127.6 L1274.5 2127.8 L1276.0 2128.0 L1277.5 2128.2 L1279.0 2128.5 L1280.5 2128.7 L1282.0 2128.9 L1283.4 2129.1 L1283.5 2129.1 L1285.0 2129.1 L1286.5 2129.2 L1288.0 2129.2 L1289.5 2129.3 L1291.0 2129.3 L1292.5 2129.4 L1294.0 2129.4 L1295.5 2129.5 L1297.0 2129.5 L1298.5 2129.6 L1300.0 2129.6 L1301.5 2129.7 L1303.0 2129.7 L1304.0 2129.7 L1304.5 2129.6 L1306.0 2129.2 L1307.5 2128.8 L1309.0 2128.3 L1310.5 2127.9 L1312.0 2127.5 L1313.5 2127.1 L1314.2 2126.9 L1315.0 2127.2 L1316.5 2127.8 L1318.0 2128.3 L1319.4 2128.9 L1319.5 2128.8 L1321.0 2128.6 L1322.5 2128.3 L1324.0 2128.0 L1325.5 2127.8 L1327.0 2127.5 L1328.5 2127.2 L1329.6 2127.0 L1330.0 2126.9 L1331.5 2126.3 L1333.0 2125.7 L1334.5 2125.2 L1334.8 2125.1 L1336.0 2126.0 L1337.5 2127.2 L1339.0 2128.3 L1339.9 2129.0 L1340.5 2128.9 L1342.0 2128.8 L1343.5 2128.6 L1345.0 2128.4 L1346.5 2128.2 L1348.0 2128.0 L1349.5 2127.9 L1351.0 2127.7 L1352.5 2127.5 L1354.0 2127.3 L1355.3 2127.2 L1355.5 2127.0 L1357.0 2126.0 L1358.5 2124.9 L1360.0 2123.9 L1360.4 2123.6 L1361.5 2121.2 L1363.0 2117.9 L1364.5 2114.5 L1365.6 2112.2 L1366.0 2108.2 L1367.5 2094.7 L1369.0 2081.2 L1369.4 2077.6 L1370.5 2071.0 L1372.0 2062.0 L1373.2 2054.6 L1373.5 2053.7 L1375.0 2048.1 L1375.8 2045.1 L1376.5 2046.8 L1378.0 2050.7 L1378.9 2053.0 L1379.5 2060.5 L1381.0 2079.1 L1381.7 2087.9 L1382.5 2094.4 L1384.0 2106.7 L1384.8 2113.2 L1385.5 2115.4 L1387.0 2120.0 L1388.5 2124.6 L1388.6 2125.0 L1390.0 2125.8 L1391.5 2126.6 L1392.5 2127.2 L1393.0 2126.9 L1394.5 2126.1 L1396.0 2125.3 L1396.3 2125.2 L1397.5 2121.7 L1399.0 2117.1 L1400.2 2113.5 L1400.5 2111.5 L1402.0 2101.6 L1403.5 2091.8 L1404.0 2088.3 L1405.0 2080.3 L1406.5 2067.8 L1406.6 2066.9 L1408.0 2064.8 L1409.2 2063.0 L1409.5 2063.9 L1411.0 2067.7 L1411.7 2069.5 L1412.5 2068.2 L1414.0 2065.7 L1415.5 2063.2 L1415.6 2063.0 L1417.0 2064.3 L1418.5 2065.6 L1419.4 2066.4 L1420.0 2068.3 L1421.5 2073.3 L1423.0 2078.3 L1423.3 2079.3 L1424.5 2082.8 L1426.0 2087.1 L1427.5 2091.4 L1428.4 2094.1 L1429.0 2094.6 L1430.5 2096.0 L1432.0 2097.4 L1432.3 2097.7 L1433.5 2097.8 L1435.0 2097.9 L1436.5 2098.1 L1438.0 2098.2 L1439.5 2098.4 L1441.0 2098.5 L1442.5 2098.7 L1444.0 2098.8 L1445.1 2098.9 L1445.5 2099.6 L1447.0 2102.1 L1448.5 2104.6 L1448.9 2105.4 L1450.0 2103.1 L1451.5 2099.9 L1452.8 2097.1 L1453.0 2095.8 L1454.5 2086.5 L1456.0 2077.1 L1456.6 2073.0 L1457.5 2069.4 L1459.0 2063.0 L1460.5 2056.6 L1460.5 2056.6 L1462.0 2057.3 L1463.5 2058.0 L1464.3 2058.4 L1465.0 2060.2 L1466.5 2064.1 L1468.0 2068.1 L1469.5 2072.0 L1469.5 2072.0 L1471.0 2069.5 L1472.5 2067.0 L1474.0 2064.6 L1474.7 2063.5 L1475.5 2059.3 L1477.0 2051.8 L1478.5 2044.2 L1479.0 2041.5 L1480.0 2032.7 L1481.5 2019.1 L1483.0 2005.4 L1483.4 2001.9 L1484.5 1997.7 L1486.0 1992.1 L1487.5 1986.6 L1489.0 1981.0 L1489.2 1980.2 L1490.5 1973.8 L1492.0 1966.3 L1493.5 1958.8 L1493.6 1958.6 L1495.0 1936.7 L1496.5 1914.8 L1496.5 1913.7 L1497.9 1877.5 L1498.0 1877.2 L1499.5 1872.5 L1499.9 1871.1 L1501.0 1879.4 L1502.3 1889.3 L1502.5 1899.4 L1503.1 1926.8 L1504.0 1981.4 L1504.0 1981.9 L1505.5 2019.7 L1506.6 2048.0 L1507.0 2052.3 L1508.5 2069.4 L1509.5 2081.1 L1510.0 2082.4 L1511.5 2086.4 L1512.4 2088.9 L1513.0 2086.9 L1514.5 2081.7 L1515.3 2078.8 L1516.0 2069.2 L1517.5 2047.7 L1518.2 2037.2 L1519.0 2017.7 L1519.7 2000.2 L1520.5 1986.3 L1521.7 1965.5 L1522.0 1964.4 L1523.5 1958.8 L1524.0 1956.8 L1525.0 1963.8 L1526.1 1971.6 L1526.5 1972.7 L1528.0 1976.6 L1528.4 1977.7 L1529.5 1980.8 L1531.0 1985.0 L1531.3 1985.8 L1532.5 1974.9 L1532.8 1972.6 L1534.0 1959.1 L1534.8 1950.6 L1535.5 1939.8 L1537.0 1917.1 L1537.1 1915.5 L1538.5 1899.6 L1540.0 1882.5 L1540.0 1882.4 L1541.5 1865.4 L1542.9 1849.3 L1543.0 1848.9 L1544.5 1842.1 L1546.0 1835.2 L1546.4 1833.4 L1547.5 1838.2 L1549.0 1844.7 L1550.2 1849.7 L1550.5 1857.1 L1551.6 1882.5 L1552.0 1893.7 L1553.1 1925.9 L1553.5 1929.5 L1555.0 1942.5 L1556.0 1951.0 L1556.5 1948.7 L1558.0 1942.1 L1558.9 1938.2 L1559.5 1936.7 L1561.0 1932.9 L1561.8 1930.9 L1562.5 1928.6 L1564.0 1923.8 L1564.1 1923.4 L1565.5 1935.3 L1566.1 1940.9 L1567.0 1947.3 L1568.5 1958.6 L1569.0 1962.7 L1570.0 1973.3 L1571.5 1989.9 L1572.0 1994.9 L1573.0 2002.7 L1574.5 2013.9 L1576.0 2025.0 L1576.3 2027.2 L1577.5 2036.1 L1579.0 2047.1 L1580.5 2058.1 L1580.7 2059.3 L1582.0 2067.8 L1583.5 2077.3 L1585.0 2086.8 L1585.0 2087.0 L1586.5 2090.9 L1588.0 2094.8 L1589.5 2098.7 L1590.8 2102.2 L1591.0 2102.5 L1592.5 2105.1 L1594.0 2107.6 L1595.5 2110.2 L1596.6 2112.1 L1597.0 2111.7 L1598.5 2110.0 L1600.0 2108.3 L1601.0 2107.1 L1601.5 2105.7 L1603.0 2101.5 L1603.9 2099.1 L1604.5 2100.7 L1606.0 2104.8 L1606.8 2107.0 L1607.5 2107.7 L1609.0 2109.2 L1610.5 2110.7 L1612.0 2112.3 L1612.6 2112.9 L1613.5 2113.0 L1615.0 2113.2 L1616.5 2113.4 L1618.0 2113.6 L1618.4 2113.6 L1619.5 2113.6 L1621.0 2113.6 L1622.5 2113.6 L1624.0 2113.6 L1624.2 2113.6 L1625.5 2114.1 L1627.0 2114.6 L1628.5 2115.2 L1630.0 2115.8 L1631.5 2116.3 L1633.0 2116.9 L1634.5 2117.4 L1635.8 2117.9 L1636.0 2117.2 L1637.5 2110.3 L1638.7 2104.6 L1639.0 2102.5 L1640.5 2090.6 L1641.6 2081.5 L1642.0 2080.5 L1643.5 2076.0 L1644.5 2072.9 L1645.0 2074.6 L1646.5 2079.9 L1647.4 2083.3 L1648.0 2087.3 L1649.5 2097.9 L1650.3 2103.8 L1651.0 2106.1 L1652.5 2111.4 L1654.0 2116.6 L1655.5 2121.8 L1656.2 2124.1 L1657.0 2125.4 L1658.5 2127.6 L1660.0 2129.9 L1661.5 2132.1 L1663.0 2134.4 L1663.4 2135.0 L1664.5 2135.2 L1666.0 2135.6 L1667.5 2136.0 L1669.0 2136.4 L1670.5 2136.8 L1670.7 2136.8 L1672.0 2136.3 L1673.5 2135.8 L1675.0 2135.2 L1676.5 2134.7 L1677.9 2134.2 L1678.0 2134.0 L1679.5 2130.2 L1681.0 2126.4 L1682.3 2123.1 L1682.5 2122.3 L1684.0 2116.7 L1685.5 2111.1 L1687.0 2105.5 L1688.1 2101.4 L1688.5 2099.2 L1690.0 2091.1 L1691.5 2083.0 L1692.5 2077.9 L1693.0 2075.9 L1694.5 2070.5 L1696.0 2065.0 L1696.2 2064.2 L1697.5 2067.6 L1699.0 2071.7 L1699.7 2073.6 L1700.5 2077.8 L1702.0 2085.7 L1703.5 2093.7 L1704.1 2096.6 L1705.0 2102.1 L1706.5 2110.7 L1707.0 2113.4 L1708.0 2114.8 L1709.3 2116.5 L1712.8 2104.9 L1717.1 2087.5 L1720.9 2074.4 L1724.4 2087.5 L1727.3 2096.2 L1737.5 2100.5 L1754.9 2115.0 L1762.1 2126.7 L1778.1 2129.6 L1801.9 2131.0" stroke="#5a5a5a" stroke-width="5.0"/>
<path class="cv" d="M201.5 2443.8 L228.0 2444.9 L231.0 2443.8 L234.0 2445.1 L237.0 2443.8 L240.0 2443.8 L243.0 2443.8 L246.0 2442.5 L249.0 2443.8 L252.0 2442.9 L255.0 2443.0 L258.0 2445.2 L261.0 2443.8 L264.0 2444.9 L267.0 2442.5 L270.0 2443.8 L349.5 2443.8 L354.5 2441.6 L557.5 2441.6 L562.5 2443.8 L616.1 2443.8 L617.0 2443.8 L648.0 2442.8 L655.0 2440.8 L660.0 2434.8 L665.5 2427.8 L670.0 2433.8 L676.5 2436.8 L683.0 2432.8 L689.7 2426.8 L697.0 2431.8 L706.0 2434.8 L720.0 2435.8 L726.0 2437.3 L731.5 2434.8 L738.0 2439.8 L746.0 2442.3 L764.0 2443.8 L809.5 2443.8 L814.5 2441.3 L823.9 2441.3 L827.2 2439.5 L829.4 2441.3 L857.5 2441.3 L860.0 2442.5 L862.5 2443.8 L927.5 2443.8 L932.5 2441.3 L1007.5 2441.3 L1012.5 2443.8 L1016.8 2443.8 L1018.6 2445.8 L1040.6 2445.8 L1051.6 2449.4 L1062.6 2446.4 L1071.7 2444.3 L1072.5 2444.3 L1077.5 2442.3 L1101.1 2442.3 L1102.5 2443.5 L1102.9 2444.0 L1107.5 2445.8 L1124.9 2445.8 L1134.1 2443.8 L1139.6 2445.6 L1145.1 2443.8 L1150.0 2442.6 L1151.5 2442.9 L1153.0 2443.3 L1154.2 2443.6 L1154.5 2443.6 L1156.0 2443.5 L1157.5 2443.4 L1157.7 2443.4 L1159.0 2442.7 L1160.5 2442.0 L1161.6 2441.5 L1162.0 2441.5 L1163.5 2441.6 L1165.0 2441.7 L1166.5 2441.8 L1168.0 2441.9 L1169.5 2442.0 L1171.0 2442.1 L1172.5 2442.1 L1174.0 2442.2 L1175.5 2442.3 L1175.7 2442.3 L1177.0 2442.3 L1178.5 2442.2 L1180.0 2442.1 L1181.5 2442.0 L1183.0 2441.9 L1184.5 2441.8 L1186.0 2441.7 L1187.5 2441.6 L1189.0 2441.6 L1190.5 2441.5 L1192.0 2441.4 L1193.5 2441.3 L1193.6 2441.3 L1195.0 2440.6 L1196.5 2439.9 L1198.0 2439.1 L1199.5 2438.4 L1201.0 2437.6 L1201.3 2437.5 L1202.5 2436.9 L1204.0 2436.2 L1205.5 2435.4 L1207.0 2434.7 L1208.5 2433.9 L1209.0 2433.7 L1210.0 2432.8 L1211.5 2431.5 L1213.0 2430.1 L1214.2 2429.1 L1214.5 2428.4 L1216.0 2425.2 L1217.5 2422.0 L1218.8 2419.3 L1219.0 2418.1 L1220.5 2410.3 L1221.9 2403.4 L1222.0 2402.2 L1223.5 2390.6 L1223.9 2387.5 L1225.0 2370.0 L1226.5 2346.0 L1227.0 2338.3 L1228.0 2324.3 L1229.5 2303.8 L1229.5 2303.1 L1231.0 2278.3 L1232.1 2259.2 L1232.5 2254.8 L1234.0 2237.6 L1235.5 2220.5 L1236.0 2215.2 L1237.0 2204.5 L1238.5 2189.1 L1238.5 2188.8 L1240.0 2182.3 L1240.3 2180.8 L1241.5 2187.7 L1242.9 2195.8 L1243.0 2196.5 L1244.4 2206.4 L1244.5 2208.4 L1246.0 2252.3 L1246.2 2258.9 L1247.5 2289.3 L1248.8 2320.2 L1249.0 2323.0 L1250.5 2343.4 L1252.0 2363.8 L1252.6 2372.6 L1253.5 2379.0 L1255.0 2390.2 L1256.5 2401.4 L1257.8 2410.9 L1258.0 2411.6 L1259.5 2416.7 L1261.0 2421.7 L1262.5 2426.8 L1262.9 2428.2 L1264.0 2429.1 L1265.5 2430.4 L1267.0 2431.7 L1268.5 2433.0 L1270.0 2434.3 L1270.6 2434.8 L1271.5 2434.9 L1273.0 2435.1 L1274.5 2435.2 L1276.0 2435.4 L1277.5 2435.5 L1279.0 2435.6 L1280.5 2435.8 L1282.0 2435.9 L1283.4 2436.1 L1283.5 2436.1 L1285.0 2436.1 L1286.5 2436.1 L1288.0 2436.1 L1289.5 2436.1 L1291.0 2436.1 L1292.5 2436.1 L1294.0 2436.1 L1295.5 2436.1 L1297.0 2436.1 L1298.5 2436.1 L1300.0 2436.1 L1301.5 2436.1 L1303.0 2436.2 L1304.0 2436.2 L1304.5 2436.0 L1306.0 2435.6 L1307.5 2435.3 L1309.0 2434.9 L1310.5 2434.5 L1312.0 2434.1 L1313.5 2433.8 L1314.2 2433.6 L1315.0 2433.8 L1316.5 2434.3 L1318.0 2434.8 L1319.4 2435.3 L1319.5 2435.3 L1321.0 2435.0 L1322.5 2434.8 L1324.0 2434.5 L1325.5 2434.3 L1327.0 2434.0 L1328.5 2433.8 L1329.6 2433.6 L1330.0 2433.5 L1331.5 2433.0 L1333.0 2432.5 L1334.5 2432.0 L1334.8 2431.9 L1336.0 2432.7 L1337.5 2433.7 L1339.0 2434.7 L1339.9 2435.3 L1340.5 2435.2 L1342.0 2435.1 L1343.5 2434.9 L1345.0 2434.7 L1346.5 2434.6 L1348.0 2434.4 L1349.5 2434.2 L1351.0 2434.1 L1352.5 2433.9 L1354.0 2433.7 L1355.3 2433.6 L1355.5 2433.4 L1357.0 2432.4 L1358.5 2431.4 L1360.0 2430.4 L1360.4 2430.1 L1361.5 2427.9 L1363.0 2424.9 L1364.5 2421.9 L1365.6 2419.8 L1366.0 2416.2 L1367.5 2404.3 L1369.0 2392.4 L1369.4 2389.3 L1370.5 2383.4 L1372.0 2375.5 L1373.2 2368.9 L1373.5 2368.1 L1375.0 2363.1 L1375.8 2360.5 L1376.5 2362.0 L1378.0 2365.2 L1378.9 2367.2 L1379.5 2373.7 L1381.0 2389.8 L1381.7 2397.5 L1382.5 2403.1 L1384.0 2413.7 L1384.8 2419.4 L1385.5 2421.2 L1387.0 2425.1 L1388.5 2429.1 L1388.6 2429.4 L1390.0 2430.0 L1391.5 2430.6 L1392.5 2431.0 L1393.0 2430.8 L1394.5 2430.2 L1396.0 2429.6 L1396.3 2429.4 L1397.5 2426.4 L1399.0 2422.5 L1400.2 2419.4 L1400.5 2417.6 L1402.0 2409.1 L1403.5 2400.7 L1404.0 2397.6 L1405.0 2390.7 L1406.5 2379.9 L1406.6 2379.1 L1408.0 2377.4 L1409.2 2375.9 L1409.5 2376.6 L1411.0 2379.9 L1411.7 2381.5 L1412.5 2380.4 L1414.0 2378.2 L1415.5 2376.0 L1415.6 2375.9 L1417.0 2377.0 L1418.5 2378.2 L1419.4 2378.9 L1420.0 2380.6 L1421.5 2385.0 L1423.0 2389.4 L1423.3 2390.3 L1424.5 2393.4 L1426.0 2397.2 L1427.5 2401.0 L1428.4 2403.4 L1429.0 2403.9 L1430.5 2405.1 L1432.0 2406.4 L1432.3 2406.6 L1433.5 2406.6 L1435.0 2406.6 L1436.5 2406.6 L1438.0 2406.6 L1439.5 2406.6 L1441.0 2406.6 L1442.5 2406.6 L1444.0 2406.6 L1445.1 2406.6 L1445.5 2407.2 L1447.0 2409.2 L1448.5 2411.2 L1448.9 2411.8 L1450.0 2409.8 L1451.5 2407.1 L1452.8 2404.7 L1453.0 2403.5 L1454.5 2395.4 L1456.0 2387.2 L1456.6 2383.7 L1457.5 2380.5 L1459.0 2375.0 L1460.5 2369.4 L1460.5 2369.4 L1462.0 2369.9 L1463.5 2370.4 L1464.3 2370.7 L1465.0 2372.1 L1466.5 2375.5 L1468.0 2378.9 L1469.5 2382.3 L1469.5 2382.2 L1471.0 2379.9 L1472.5 2377.6 L1474.0 2375.3 L1474.7 2374.2 L1475.5 2370.4 L1477.0 2363.5 L1478.5 2356.5 L1479.0 2354.0 L1480.0 2345.9 L1481.5 2333.3 L1483.0 2320.6 L1483.4 2317.3 L1484.5 2313.3 L1486.0 2307.9 L1487.5 2302.5 L1489.0 2297.0 L1489.2 2296.3 L1490.5 2290.0 L1492.0 2282.7 L1493.5 2275.4 L1493.6 2275.2 L1495.0 2254.5 L1496.5 2233.6 L1496.5 2232.5 L1497.9 2198.2 L1498.0 2197.9 L1499.5 2192.9 L1499.9 2191.5 L1501.0 2198.7 L1502.3 2207.3 L1502.5 2216.7 L1503.1 2242.3 L1504.0 2293.6 L1504.0 2294.1 L1505.5 2329.5 L1506.6 2356.2 L1507.0 2360.3 L1508.5 2376.4 L1509.5 2387.4 L1510.0 2388.6 L1511.5 2392.4 L1512.4 2394.7 L1513.0 2393.0 L1514.5 2388.5 L1515.3 2386.0 L1516.0 2376.9 L1517.5 2356.5 L1518.2 2346.4 L1519.0 2327.5 L1519.7 2310.6 L1520.5 2297.1 L1521.7 2276.7 L1522.0 2275.7 L1523.5 2270.4 L1524.0 2268.4 L1525.0 2275.3 L1526.1 2283.0 L1526.5 2284.1 L1528.0 2288.1 L1528.4 2289.1 L1529.5 2292.3 L1531.0 2296.6 L1531.3 2297.4 L1532.5 2286.7 L1532.8 2284.4 L1534.0 2270.9 L1534.8 2262.4 L1535.5 2251.5 L1537.0 2228.4 L1537.1 2226.7 L1538.5 2210.4 L1540.0 2192.7 L1540.0 2192.6 L1541.5 2174.8 L1542.9 2157.8 L1543.0 2157.4 L1544.5 2150.1 L1546.0 2142.6 L1546.4 2140.7 L1547.5 2148.3 L1549.0 2158.5 L1550.2 2166.5 L1550.5 2174.9 L1551.6 2203.5 L1552.0 2215.8 L1553.1 2250.8 L1553.5 2255.3 L1555.0 2271.2 L1556.0 2281.5 L1556.5 2279.3 L1558.0 2273.1 L1558.9 2269.5 L1559.5 2268.1 L1561.0 2264.8 L1561.8 2263.2 L1562.5 2261.2 L1564.0 2257.1 L1564.1 2256.8 L1565.5 2268.5 L1566.1 2273.9 L1567.0 2280.1 L1568.5 2290.8 L1569.0 2294.7 L1570.0 2304.6 L1571.5 2319.9 L1572.0 2324.5 L1573.0 2331.5 L1574.5 2341.3 L1576.0 2351.0 L1576.3 2353.0 L1577.5 2360.5 L1579.0 2369.8 L1580.5 2378.9 L1580.7 2379.9 L1582.0 2386.7 L1583.5 2394.2 L1585.0 2401.5 L1585.0 2401.6 L1586.5 2404.0 L1588.0 2406.4 L1589.5 2408.8 L1590.8 2410.8 L1591.0 2411.0 L1592.5 2412.1 L1594.0 2413.2 L1595.5 2414.3 L1596.6 2415.0 L1597.0 2414.8 L1598.5 2413.6 L1600.0 2412.6 L1601.0 2411.9 L1601.5 2410.9 L1603.0 2408.0 L1603.9 2406.3 L1604.5 2407.6 L1606.0 2410.7 L1606.8 2412.4 L1607.5 2412.9 L1609.0 2414.1 L1610.5 2415.3 L1612.0 2416.5 L1612.6 2417.0 L1613.5 2417.1 L1615.0 2417.3 L1616.5 2417.5 L1618.0 2417.7 L1618.4 2417.8 L1619.5 2417.8 L1621.0 2417.8 L1622.5 2417.9 L1624.0 2417.9 L1624.2 2417.9 L1625.5 2418.3 L1627.0 2418.6 L1628.5 2419.0 L1630.0 2419.4 L1631.5 2419.8 L1633.0 2420.1 L1634.5 2420.5 L1635.8 2420.8 L1636.0 2420.3 L1637.5 2415.0 L1638.7 2410.6 L1639.0 2409.0 L1640.5 2399.7 L1641.6 2392.7 L1642.0 2391.9 L1643.5 2388.4 L1644.5 2386.0 L1645.0 2387.2 L1646.5 2391.0 L1647.4 2393.5 L1648.0 2396.5 L1649.5 2404.7 L1650.3 2409.4 L1651.0 2411.2 L1652.5 2415.3 L1654.0 2419.5 L1655.5 2423.7 L1656.2 2425.6 L1657.0 2426.6 L1658.5 2428.5 L1660.0 2430.4 L1661.5 2432.4 L1663.0 2434.3 L1663.4 2434.9 L1664.5 2435.2 L1666.0 2435.5 L1667.5 2436.0 L1669.0 2436.4 L1670.5 2436.8 L1670.7 2436.8 L1672.0 2436.5 L1673.5 2436.2 L1675.0 2435.9 L1676.5 2435.6 L1677.9 2435.3 L1678.0 2435.1 L1679.5 2431.7 L1681.0 2428.2 L1682.3 2425.2 L1682.5 2424.5 L1684.0 2419.1 L1685.5 2413.7 L1687.0 2408.2 L1688.1 2404.2 L1688.5 2402.0 L1690.0 2393.9 L1691.5 2385.6 L1692.5 2380.3 L1693.0 2378.2 L1694.5 2372.4 L1696.0 2366.6 L1696.2 2365.7 L1697.5 2369.3 L1699.0 2373.6 L1699.7 2375.7 L1700.5 2380.1 L1702.0 2388.4 L1703.5 2396.7 L1704.1 2399.9 L1705.0 2405.5 L1706.5 2414.6 L1707.0 2417.5 L1708.0 2419.0 L1709.3 2420.8 L1712.8 2413.6 L1717.1 2390.4 L1720.0 2361.3 L1722.4 2336.6 L1724.7 2361.3 L1727.3 2396.2 L1737.5 2403.4 L1752.0 2416.5 L1765.0 2428.1 L1783.9 2426.7 L1801.9 2426.7" stroke="#04b878" stroke-width="5.6"/>
<path class="cv" d="M201.5 2750.8 L347.5 2750.8 L352.5 2748.3 L477.5 2748.3 L482.5 2750.8 L616.1 2750.8 L617.0 2750.8 L645.0 2749.8 L655.0 2747.8 L660.0 2740.8 L664.5 2732.8 L669.0 2739.8 L675.0 2742.8 L683.0 2738.8 L689.7 2732.8 L695.0 2737.8 L702.0 2739.8 L713.0 2742.8 L726.0 2743.8 L731.5 2740.8 L737.0 2747.8 L745.0 2749.3 L760.0 2750.8 L809.5 2750.8 L814.5 2748.3 L823.9 2748.3 L827.2 2746.5 L829.4 2748.3 L857.5 2748.3 L860.0 2749.5 L862.5 2750.8 L927.5 2750.8 L932.5 2748.3 L957.5 2748.3 L962.5 2750.8 L972.5 2750.8 L977.5 2748.3 L997.5 2748.3 L1002.5 2750.8 L1016.8 2750.8 L1018.6 2752.8 L1040.6 2752.8 L1051.6 2756.4 L1062.6 2753.4 L1071.7 2751.3 L1072.5 2751.3 L1077.5 2748.8 L1097.5 2748.8 L1101.1 2750.6 L1102.5 2752.5 L1102.9 2752.8 L1124.9 2752.8 L1127.5 2752.3 L1132.5 2749.1 L1134.1 2748.8 L1139.6 2750.6 L1145.1 2748.8 L1147.5 2748.3 L1150.0 2748.7 L1151.5 2749.7 L1152.5 2750.3 L1153.0 2750.4 L1154.2 2750.7 L1154.5 2750.7 L1156.0 2750.6 L1157.5 2750.5 L1157.7 2750.5 L1159.0 2749.9 L1160.5 2749.2 L1161.6 2748.7 L1162.0 2748.7 L1163.5 2748.8 L1165.0 2748.9 L1166.5 2749.0 L1168.0 2749.1 L1169.5 2749.1 L1171.0 2749.2 L1172.5 2749.3 L1174.0 2749.4 L1175.5 2749.5 L1175.7 2749.5 L1177.0 2749.4 L1178.5 2749.3 L1180.0 2749.2 L1181.5 2749.1 L1183.0 2749.1 L1184.5 2749.0 L1186.0 2748.9 L1187.5 2748.8 L1189.0 2748.7 L1190.5 2748.6 L1192.0 2748.6 L1193.5 2748.5 L1193.6 2748.5 L1195.0 2747.8 L1196.5 2747.1 L1198.0 2746.4 L1199.5 2745.7 L1201.0 2745.1 L1201.3 2744.9 L1202.5 2744.4 L1204.0 2743.7 L1205.5 2743.0 L1207.0 2742.3 L1208.5 2741.6 L1209.0 2741.4 L1210.0 2740.5 L1211.5 2739.3 L1213.0 2738.0 L1214.2 2737.0 L1214.5 2736.3 L1216.0 2733.3 L1217.5 2730.3 L1218.8 2727.7 L1219.0 2726.6 L1220.5 2719.2 L1221.9 2712.6 L1222.0 2711.5 L1223.5 2700.5 L1223.9 2697.5 L1225.0 2680.8 L1226.5 2658.0 L1227.0 2650.7 L1228.0 2637.4 L1229.5 2617.8 L1229.5 2617.2 L1231.0 2593.5 L1232.1 2575.4 L1232.5 2571.2 L1234.0 2554.9 L1235.5 2538.6 L1236.0 2533.5 L1237.0 2523.4 L1238.5 2508.7 L1238.5 2508.4 L1240.0 2502.2 L1240.3 2500.8 L1241.5 2507.3 L1242.9 2514.9 L1243.0 2515.6 L1244.4 2524.9 L1244.5 2526.8 L1246.0 2568.6 L1246.2 2574.9 L1247.5 2603.8 L1248.8 2633.3 L1249.0 2636.0 L1250.5 2655.5 L1252.0 2675.0 L1252.6 2683.3 L1253.5 2689.4 L1255.0 2700.1 L1256.5 2710.8 L1257.8 2719.9 L1258.0 2720.7 L1259.5 2725.5 L1261.0 2730.4 L1262.5 2735.2 L1262.9 2736.5 L1264.0 2737.4 L1265.5 2738.7 L1267.0 2740.0 L1268.5 2741.2 L1270.0 2742.5 L1270.6 2743.0 L1271.5 2743.1 L1273.0 2743.3 L1274.5 2743.4 L1276.0 2743.6 L1277.5 2743.7 L1279.0 2743.9 L1280.5 2744.0 L1282.0 2744.2 L1283.4 2744.3 L1283.5 2744.3 L1285.0 2744.4 L1286.5 2744.4 L1288.0 2744.4 L1289.5 2744.4 L1291.0 2744.4 L1292.5 2744.5 L1294.0 2744.5 L1295.5 2744.5 L1297.0 2744.5 L1298.5 2744.5 L1300.0 2744.6 L1301.5 2744.6 L1303.0 2744.6 L1304.0 2744.6 L1304.5 2744.5 L1306.0 2744.2 L1307.5 2743.8 L1309.0 2743.5 L1310.5 2743.2 L1312.0 2742.8 L1313.5 2742.5 L1314.2 2742.3 L1315.0 2742.6 L1316.5 2743.1 L1318.0 2743.7 L1319.4 2744.1 L1319.5 2744.1 L1321.0 2743.9 L1322.5 2743.7 L1324.0 2743.5 L1325.5 2743.3 L1327.0 2743.1 L1328.5 2742.9 L1329.6 2742.7 L1330.0 2742.6 L1331.5 2742.1 L1333.0 2741.7 L1334.5 2741.2 L1334.8 2741.1 L1336.0 2742.0 L1337.5 2743.0 L1339.0 2744.0 L1339.9 2744.6 L1340.5 2744.6 L1342.0 2744.5 L1343.5 2744.3 L1345.0 2744.2 L1346.5 2744.1 L1348.0 2743.9 L1349.5 2743.8 L1351.0 2743.7 L1352.5 2743.6 L1354.0 2743.4 L1355.3 2743.3 L1355.5 2743.2 L1357.0 2742.2 L1358.5 2741.1 L1360.0 2740.1 L1360.4 2739.8 L1361.5 2737.7 L1363.0 2734.7 L1364.5 2731.7 L1365.6 2729.6 L1366.0 2726.0 L1367.5 2714.1 L1369.0 2702.3 L1369.4 2699.1 L1370.5 2693.3 L1372.0 2685.3 L1373.2 2678.7 L1373.5 2677.9 L1375.0 2672.9 L1375.8 2670.2 L1376.5 2671.7 L1378.0 2674.9 L1378.9 2676.8 L1379.5 2683.3 L1381.0 2699.4 L1381.7 2707.1 L1382.5 2712.7 L1384.0 2723.4 L1384.8 2729.1 L1385.5 2730.9 L1387.0 2734.8 L1388.5 2738.8 L1388.6 2739.2 L1390.0 2739.7 L1391.5 2740.3 L1392.5 2740.8 L1393.0 2740.5 L1394.5 2739.7 L1396.0 2739.0 L1396.3 2738.8 L1397.5 2735.7 L1399.0 2731.6 L1400.2 2728.3 L1400.5 2726.5 L1402.0 2717.7 L1403.5 2708.9 L1404.0 2705.8 L1405.0 2698.6 L1406.5 2687.5 L1406.6 2686.7 L1408.0 2684.7 L1409.2 2683.0 L1409.5 2683.8 L1411.0 2687.1 L1411.7 2688.8 L1412.5 2687.6 L1414.0 2685.4 L1415.5 2683.2 L1415.6 2683.0 L1417.0 2684.2 L1418.5 2685.4 L1419.4 2686.2 L1420.0 2687.9 L1421.5 2692.4 L1423.0 2696.8 L1423.3 2697.7 L1424.5 2700.8 L1426.0 2704.6 L1427.5 2708.4 L1428.4 2710.7 L1429.0 2711.2 L1430.5 2712.4 L1432.0 2713.6 L1432.3 2713.8 L1433.5 2713.8 L1435.0 2713.8 L1436.5 2713.8 L1438.0 2713.8 L1439.5 2713.8 L1441.0 2713.8 L1442.5 2713.8 L1444.0 2713.8 L1445.1 2713.8 L1445.5 2714.4 L1447.0 2716.4 L1448.5 2718.4 L1448.9 2718.9 L1450.0 2717.1 L1451.5 2714.5 L1452.8 2712.2 L1453.0 2711.1 L1454.5 2703.4 L1456.0 2695.7 L1456.6 2692.4 L1457.5 2689.5 L1459.0 2684.3 L1460.5 2679.2 L1460.5 2679.2 L1462.0 2679.5 L1463.5 2679.9 L1464.3 2680.1 L1465.0 2681.4 L1466.5 2684.5 L1468.0 2687.6 L1469.5 2690.7 L1469.5 2690.7 L1471.0 2688.4 L1472.5 2686.1 L1474.0 2683.8 L1474.7 2682.8 L1475.5 2679.1 L1477.0 2672.4 L1478.5 2665.7 L1479.0 2663.2 L1480.0 2655.5 L1481.5 2643.4 L1483.0 2631.2 L1483.4 2628.0 L1484.5 2624.1 L1486.0 2618.8 L1487.5 2613.4 L1489.0 2608.1 L1489.2 2607.4 L1490.5 2601.2 L1492.0 2594.1 L1493.5 2587.0 L1493.6 2586.7 L1495.0 2566.8 L1496.5 2546.5 L1496.5 2545.5 L1497.9 2512.4 L1498.0 2512.1 L1499.5 2507.1 L1499.9 2505.7 L1501.0 2512.5 L1502.3 2520.7 L1502.5 2529.7 L1503.1 2554.2 L1504.0 2603.5 L1504.0 2603.9 L1505.5 2637.9 L1506.6 2663.5 L1507.0 2667.3 L1508.5 2682.8 L1509.5 2693.3 L1510.0 2694.4 L1511.5 2698.0 L1512.4 2700.2 L1513.0 2698.2 L1514.5 2692.9 L1515.3 2690.0 L1516.0 2680.8 L1517.5 2660.1 L1518.2 2650.0 L1519.0 2631.3 L1519.7 2614.5 L1520.5 2600.9 L1521.7 2580.6 L1522.0 2579.4 L1523.5 2573.2 L1524.0 2571.0 L1525.0 2577.4 L1526.1 2584.6 L1526.5 2585.6 L1528.0 2589.0 L1528.4 2589.9 L1529.5 2592.7 L1531.0 2596.4 L1531.3 2597.1 L1532.5 2586.4 L1532.8 2584.2 L1534.0 2571.0 L1534.8 2562.7 L1535.5 2552.2 L1537.0 2530.1 L1537.1 2528.5 L1538.5 2513.0 L1540.0 2496.3 L1540.0 2496.2 L1541.5 2479.5 L1542.9 2463.7 L1543.0 2463.3 L1544.5 2456.4 L1546.0 2449.4 L1546.4 2447.6 L1547.5 2452.0 L1549.0 2458.1 L1550.2 2462.8 L1550.5 2469.9 L1551.6 2494.1 L1552.0 2504.8 L1553.1 2535.6 L1553.5 2539.1 L1555.0 2551.4 L1556.0 2559.4 L1556.5 2557.3 L1558.0 2551.3 L1558.9 2547.8 L1559.5 2546.4 L1561.0 2543.1 L1561.8 2541.4 L1562.5 2539.3 L1564.0 2535.0 L1564.1 2534.7 L1565.5 2545.7 L1566.1 2550.8 L1567.0 2556.7 L1568.5 2567.2 L1569.0 2571.1 L1570.0 2581.1 L1571.5 2597.1 L1572.0 2601.9 L1573.0 2609.4 L1574.5 2620.1 L1576.0 2631.0 L1576.3 2633.2 L1577.5 2641.9 L1579.0 2652.8 L1580.5 2663.9 L1580.7 2665.1 L1582.0 2673.7 L1583.5 2683.3 L1585.0 2693.1 L1585.0 2693.2 L1586.5 2697.3 L1588.0 2701.5 L1589.5 2705.7 L1590.8 2709.4 L1591.0 2709.7 L1592.5 2712.6 L1594.0 2715.5 L1595.5 2718.3 L1596.6 2720.5 L1597.0 2720.1 L1598.5 2718.1 L1600.0 2716.2 L1601.0 2714.9 L1601.5 2713.3 L1603.0 2708.7 L1603.9 2706.0 L1604.5 2707.8 L1606.0 2712.3 L1606.8 2714.6 L1607.5 2715.4 L1609.0 2717.0 L1610.5 2718.7 L1612.0 2720.4 L1612.6 2721.0 L1613.5 2721.2 L1615.0 2721.4 L1616.5 2721.6 L1618.0 2721.9 L1618.4 2721.9 L1619.5 2721.9 L1621.0 2722.0 L1622.5 2722.0 L1624.0 2722.0 L1624.2 2722.0 L1625.5 2722.3 L1627.0 2722.7 L1628.5 2723.0 L1630.0 2723.4 L1631.5 2723.8 L1633.0 2724.2 L1634.5 2724.5 L1635.8 2724.9 L1636.0 2724.1 L1637.5 2716.9 L1638.7 2711.0 L1639.0 2708.8 L1640.5 2696.6 L1641.6 2687.2 L1642.0 2686.1 L1643.5 2681.6 L1644.5 2678.4 L1645.0 2680.2 L1646.5 2685.8 L1647.4 2689.3 L1648.0 2693.4 L1649.5 2704.2 L1650.3 2710.3 L1651.0 2712.6 L1652.5 2717.9 L1654.0 2723.2 L1655.5 2728.4 L1656.2 2730.6 L1657.0 2731.8 L1658.5 2734.0 L1660.0 2736.2 L1661.5 2738.3 L1663.0 2740.4 L1663.4 2741.0 L1664.5 2741.2 L1666.0 2741.5 L1667.5 2741.7 L1669.0 2742.0 L1670.5 2742.3 L1670.7 2742.3 L1672.0 2742.0 L1673.5 2741.6 L1675.0 2741.2 L1676.5 2740.8 L1677.9 2740.4 L1678.0 2740.3 L1679.5 2736.9 L1681.0 2733.5 L1682.3 2730.7 L1682.5 2730.0 L1684.0 2725.1 L1685.5 2720.2 L1687.0 2715.4 L1688.1 2712.0 L1688.5 2710.1 L1690.0 2703.2 L1691.5 2696.4 L1692.5 2692.2 L1693.0 2690.6 L1694.5 2686.2 L1696.0 2682.0 L1696.2 2681.3 L1697.5 2684.4 L1699.0 2688.0 L1699.7 2689.7 L1700.5 2693.4 L1702.0 2700.5 L1703.5 2707.5 L1704.1 2710.1 L1705.0 2714.9 L1706.5 2722.5 L1707.0 2724.9 L1708.0 2726.2 L1709.3 2727.8 L1712.8 2716.2 L1717.1 2706.0 L1721.5 2701.1 L1728.7 2706.0 L1736.0 2707.5 L1749.1 2719.1 L1763.6 2733.6 L1778.1 2736.5 L1789.7 2737.9 L1801.9 2735.0" stroke="#0480f2" stroke-width="6.0"/>
<path class="cv" d="M201.5 3056.2 L262.0 3057.4 L265.0 3054.9 L268.0 3056.2 L271.0 3056.2 L274.0 3057.7 L277.0 3057.4 L280.0 3057.9 L283.0 3057.3 L286.0 3054.6 L289.0 3056.2 L292.0 3056.2 L295.0 3057.2 L298.0 3054.6 L301.0 3056.2 L304.0 3056.2 L307.0 3056.2 L310.0 3056.2 L313.0 3055.1 L316.0 3057.2 L319.0 3056.2 L322.0 3054.7 L325.0 3054.4 L328.0 3057.4 L330.0 3056.2 L336.0 3056.9 L342.0 3055.7 L348.0 3056.2 L354.0 3056.9 L360.0 3056.7 L366.0 3055.3 L372.0 3057.1 L378.0 3055.4 L384.0 3056.2 L390.0 3055.4 L396.0 3056.7 L402.0 3056.2 L408.0 3056.8 L414.0 3057.0 L420.0 3056.9 L426.0 3056.2 L432.0 3056.8 L438.0 3056.8 L444.0 3055.6 L450.0 3056.7 L456.0 3056.2 L462.0 3056.8 L467.5 3056.2 L468.0 3056.0 L472.5 3054.0 L474.0 3054.0 L480.0 3054.0 L486.0 3054.0 L492.0 3054.7 L498.0 3054.8 L504.0 3054.0 L510.0 3054.5 L516.0 3054.0 L517.5 3054.0 L522.0 3056.0 L522.5 3057.0 L528.0 3057.0 L534.0 3056.7 L540.0 3056.2 L546.0 3056.7 L552.0 3055.6 L558.0 3055.4 L564.0 3056.2 L570.0 3056.9 L576.0 3056.2 L582.0 3056.2 L588.0 3055.4 L594.0 3056.6 L600.0 3056.2 L606.0 3056.2 L616.1 3056.2 L617.0 3056.2 L640.0 3054.2 L655.0 3052.2 L660.0 3045.2 L665.5 3037.7 L670.0 3044.2 L676.5 3046.7 L683.0 3042.2 L688.0 3036.2 L695.0 3037.2 L702.0 3043.2 L713.0 3045.2 L726.0 3047.2 L731.5 3044.2 L737.0 3050.2 L742.5 3052.2 L760.0 3055.5 L764.0 3056.2 L766.0 3056.8 L772.0 3056.7 L778.0 3057.1 L784.0 3056.2 L790.0 3056.7 L796.0 3055.6 L802.0 3055.6 L808.0 3056.2 L814.0 3057.0 L820.0 3056.2 L823.9 3055.7 L826.0 3054.9 L827.2 3054.9 L829.4 3056.8 L832.0 3056.2 L838.0 3056.2 L844.0 3055.4 L850.0 3055.7 L856.0 3056.8 L860.0 3056.2 L862.0 3056.2 L868.0 3056.2 L874.0 3056.2 L877.5 3055.7 L880.0 3057.2 L882.5 3058.9 L886.0 3057.4 L892.0 3058.9 L898.0 3058.2 L904.0 3058.2 L910.0 3058.2 L916.0 3058.2 L922.0 3058.2 L927.5 3058.2 L928.0 3058.8 L932.5 3056.2 L934.0 3057.0 L940.0 3056.2 L946.0 3055.3 L952.0 3055.4 L958.0 3056.2 L964.0 3056.2 L970.0 3056.2 L976.0 3056.2 L982.0 3056.2 L988.0 3056.9 L994.0 3056.8 L1000.0 3056.2 L1006.0 3055.4 L1012.0 3056.2 L1016.8 3056.2 L1018.0 3057.8 L1018.6 3058.5 L1024.0 3058.0 L1030.0 3058.5 L1036.0 3059.1 L1040.6 3058.0 L1042.0 3058.3 L1048.0 3061.8 L1051.6 3062.6 L1054.0 3061.1 L1060.0 3059.9 L1062.6 3058.6 L1066.0 3058.2 L1071.7 3057.3 L1072.0 3056.8 L1078.0 3056.8 L1084.0 3056.1 L1090.0 3057.4 L1096.0 3056.8 L1101.1 3057.2 L1102.0 3057.1 L1102.9 3058.5 L1108.0 3059.4 L1114.0 3057.8 L1120.0 3057.9 L1124.9 3057.7 L1126.0 3057.5 L1128.2 3057.7 L1130.0 3054.7 L1131.8 3056.2 L1132.0 3056.7 L1134.1 3055.5 L1138.0 3058.6 L1139.6 3058.9 L1145.1 3056.2 L1150.0 3056.7 L1151.5 3057.0 L1153.0 3057.3 L1154.2 3057.6 L1154.5 3057.5 L1156.0 3057.4 L1157.5 3057.3 L1157.7 3057.3 L1159.0 3056.6 L1160.5 3055.8 L1161.6 3055.3 L1162.0 3055.3 L1163.5 3055.3 L1165.0 3055.4 L1166.5 3055.4 L1168.0 3055.5 L1169.5 3055.5 L1171.0 3055.6 L1172.5 3055.6 L1174.0 3055.6 L1175.5 3055.7 L1175.7 3055.7 L1177.0 3055.6 L1178.5 3055.5 L1180.0 3055.3 L1181.5 3055.2 L1183.0 3055.1 L1184.5 3054.9 L1186.0 3054.8 L1187.5 3054.7 L1189.0 3054.5 L1190.5 3054.4 L1192.0 3054.3 L1193.5 3054.1 L1193.6 3054.1 L1195.0 3053.5 L1196.5 3052.8 L1198.0 3052.0 L1199.5 3051.3 L1201.0 3050.6 L1201.3 3050.5 L1202.5 3049.9 L1204.0 3049.2 L1205.5 3048.5 L1207.0 3047.8 L1208.5 3047.1 L1209.0 3046.8 L1210.0 3045.9 L1211.5 3044.6 L1213.0 3043.3 L1214.2 3042.3 L1214.5 3041.6 L1216.0 3038.4 L1217.5 3035.2 L1218.8 3032.5 L1219.0 3031.3 L1220.5 3023.5 L1221.9 3016.5 L1222.0 3015.4 L1223.5 3003.7 L1223.9 3000.6 L1225.0 2982.9 L1226.5 2958.7 L1227.0 2951.0 L1228.0 2936.9 L1229.5 2916.2 L1229.5 2915.5 L1231.0 2890.5 L1232.1 2871.3 L1232.5 2866.8 L1234.0 2849.6 L1235.5 2832.3 L1236.0 2827.0 L1237.0 2816.2 L1238.5 2800.7 L1238.5 2800.4 L1240.0 2793.8 L1240.3 2792.4 L1241.5 2799.1 L1242.9 2807.1 L1243.0 2807.8 L1244.4 2817.5 L1244.5 2819.5 L1246.0 2863.8 L1246.2 2870.5 L1247.5 2901.2 L1248.8 2932.5 L1249.0 2935.3 L1250.5 2956.0 L1252.0 2976.7 L1252.6 2985.6 L1253.5 2992.1 L1255.0 3003.5 L1256.5 3014.9 L1257.8 3024.6 L1258.0 3025.4 L1259.5 3030.6 L1261.0 3035.7 L1262.5 3040.9 L1262.9 3042.3 L1264.0 3043.3 L1265.5 3044.7 L1267.0 3046.1 L1268.5 3047.4 L1270.0 3048.8 L1270.6 3049.4 L1271.5 3049.5 L1273.0 3049.7 L1274.5 3049.9 L1276.0 3050.0 L1277.5 3050.2 L1279.0 3050.4 L1280.5 3050.6 L1282.0 3050.8 L1283.4 3051.0 L1283.5 3051.0 L1285.0 3051.0 L1286.5 3051.1 L1288.0 3051.1 L1289.5 3051.1 L1291.0 3051.2 L1292.5 3051.2 L1294.0 3051.3 L1295.5 3051.3 L1297.0 3051.4 L1298.5 3051.4 L1300.0 3051.4 L1301.5 3051.5 L1303.0 3051.5 L1304.0 3051.6 L1304.5 3051.4 L1306.0 3051.0 L1307.5 3050.6 L1309.0 3050.2 L1310.5 3049.8 L1312.0 3049.4 L1313.5 3049.0 L1314.2 3048.8 L1315.0 3049.1 L1316.5 3049.7 L1318.0 3050.2 L1319.4 3050.7 L1319.5 3050.7 L1321.0 3050.4 L1322.5 3050.2 L1324.0 3049.9 L1325.5 3049.6 L1327.0 3049.4 L1328.5 3049.1 L1329.6 3048.9 L1330.0 3048.8 L1331.5 3048.2 L1333.0 3047.7 L1334.5 3047.2 L1334.8 3047.1 L1336.0 3048.0 L1337.5 3049.1 L1339.0 3050.1 L1339.9 3050.8 L1340.5 3050.7 L1342.0 3050.5 L1343.5 3050.4 L1345.0 3050.2 L1346.5 3050.0 L1348.0 3049.8 L1349.5 3049.7 L1351.0 3049.5 L1352.5 3049.3 L1354.0 3049.1 L1355.3 3049.0 L1355.5 3048.8 L1357.0 3047.8 L1358.5 3046.7 L1360.0 3045.6 L1360.4 3045.3 L1361.5 3043.0 L1363.0 3039.7 L1364.5 3036.4 L1365.6 3034.1 L1366.0 3030.2 L1367.5 3017.0 L1369.0 3003.8 L1369.4 3000.3 L1370.5 2993.8 L1372.0 2985.0 L1373.2 2977.6 L1373.5 2976.7 L1375.0 2971.2 L1375.8 2968.2 L1376.5 2969.9 L1378.0 2973.7 L1378.9 2975.9 L1379.5 2983.2 L1381.0 3001.3 L1381.7 3009.9 L1382.5 3016.2 L1384.0 3028.1 L1384.8 3034.4 L1385.5 3036.5 L1387.0 3040.9 L1388.5 3045.3 L1388.6 3045.8 L1390.0 3046.4 L1391.5 3047.2 L1392.5 3047.7 L1393.0 3047.5 L1394.5 3046.8 L1396.0 3046.1 L1396.3 3045.9 L1397.5 3042.6 L1399.0 3038.3 L1400.2 3034.9 L1400.5 3033.0 L1402.0 3023.7 L1403.5 3014.4 L1404.0 3011.0 L1405.0 3003.5 L1406.5 2991.7 L1406.6 2990.9 L1408.0 2989.0 L1409.2 2987.4 L1409.5 2988.1 L1411.0 2991.1 L1411.7 2992.7 L1412.5 2991.1 L1414.0 2988.1 L1415.5 2985.0 L1415.6 2984.8 L1417.0 2986.3 L1418.5 2987.8 L1419.4 2988.7 L1420.0 2990.6 L1421.5 2995.8 L1423.0 3000.9 L1423.3 3001.9 L1424.5 3005.4 L1426.0 3009.8 L1427.5 3014.2 L1428.4 3016.9 L1429.0 3017.5 L1430.5 3019.0 L1432.0 3020.5 L1432.3 3020.8 L1433.5 3020.8 L1435.0 3020.8 L1436.5 3020.8 L1438.0 3020.8 L1439.5 3020.8 L1441.0 3020.8 L1442.5 3020.8 L1444.0 3020.8 L1445.1 3020.8 L1445.5 3021.4 L1447.0 3023.9 L1448.5 3026.4 L1448.9 3027.2 L1450.0 3025.1 L1451.5 3022.1 L1452.8 3019.5 L1453.0 3018.4 L1454.5 3009.6 L1456.0 3000.9 L1456.6 2997.2 L1457.5 2993.9 L1459.0 2988.1 L1460.5 2982.3 L1460.5 2982.3 L1462.0 2982.9 L1463.5 2983.5 L1464.3 2983.9 L1465.0 2985.5 L1466.5 2989.1 L1468.0 2992.8 L1469.5 2996.4 L1469.5 2996.3 L1471.0 2994.1 L1472.5 2991.8 L1474.0 2989.5 L1474.7 2988.4 L1475.5 2984.6 L1477.0 2977.5 L1478.5 2970.5 L1479.0 2968.0 L1480.0 2959.8 L1481.5 2947.1 L1483.0 2934.4 L1483.4 2931.1 L1484.5 2927.2 L1486.0 2922.0 L1487.5 2916.8 L1489.0 2911.5 L1489.2 2910.9 L1490.5 2904.8 L1492.0 2897.8 L1493.5 2890.8 L1493.6 2890.6 L1495.0 2870.2 L1496.5 2849.7 L1496.5 2848.7 L1497.9 2814.8 L1498.0 2814.6 L1499.5 2810.2 L1499.9 2808.9 L1501.0 2815.9 L1502.3 2824.3 L1502.5 2833.7 L1503.1 2859.1 L1504.0 2910.2 L1504.0 2910.6 L1505.5 2945.8 L1506.6 2972.4 L1507.0 2976.5 L1508.5 2992.5 L1509.5 3003.5 L1510.0 3004.7 L1511.5 3008.4 L1512.4 3010.7 L1513.0 3008.7 L1514.5 3003.4 L1515.3 3000.4 L1516.0 2990.9 L1517.5 2969.6 L1518.2 2959.1 L1519.0 2939.6 L1519.7 2922.2 L1520.5 2908.1 L1521.7 2886.9 L1522.0 2885.7 L1523.5 2879.4 L1524.0 2877.1 L1525.0 2884.1 L1526.1 2891.9 L1526.5 2893.0 L1528.0 2897.0 L1528.4 2898.0 L1529.5 2901.1 L1531.0 2905.3 L1531.3 2906.2 L1532.5 2895.1 L1532.8 2892.7 L1534.0 2879.1 L1534.8 2870.5 L1535.5 2859.6 L1537.0 2836.8 L1537.1 2835.2 L1538.5 2819.2 L1540.0 2802.0 L1540.0 2801.8 L1541.5 2784.8 L1542.9 2768.5 L1543.0 2768.1 L1544.5 2761.1 L1546.0 2754.1 L1546.4 2752.3 L1547.5 2757.6 L1549.0 2764.8 L1550.2 2770.4 L1550.5 2777.8 L1551.6 2803.2 L1552.0 2814.3 L1553.1 2846.1 L1553.5 2849.8 L1555.0 2862.9 L1556.0 2871.3 L1556.5 2869.4 L1558.0 2863.8 L1558.9 2860.6 L1559.5 2859.4 L1561.0 2856.7 L1561.8 2855.3 L1562.5 2853.5 L1564.0 2849.8 L1564.1 2849.5 L1565.5 2861.2 L1566.1 2866.6 L1567.0 2872.9 L1568.5 2883.9 L1569.0 2887.9 L1570.0 2898.1 L1571.5 2914.0 L1572.0 2918.8 L1573.0 2926.3 L1574.5 2937.0 L1576.0 2947.7 L1576.3 2949.9 L1577.5 2958.3 L1579.0 2968.8 L1580.5 2979.3 L1580.7 2980.4 L1582.0 2988.5 L1583.5 2997.6 L1585.0 3006.5 L1585.0 3006.6 L1586.5 3010.4 L1588.0 3014.2 L1589.5 3018.0 L1590.8 3021.3 L1591.0 3021.6 L1592.5 3024.1 L1594.0 3026.6 L1595.5 3029.1 L1596.6 3031.0 L1597.0 3030.6 L1598.5 3029.1 L1600.0 3027.6 L1601.0 3026.6 L1601.5 3025.3 L1603.0 3021.6 L1603.9 3019.4 L1604.5 3020.9 L1606.0 3024.6 L1606.8 3026.5 L1607.5 3027.2 L1609.0 3028.5 L1610.5 3029.9 L1612.0 3031.3 L1612.6 3031.9 L1613.5 3032.0 L1615.0 3032.1 L1616.5 3032.3 L1618.0 3032.5 L1618.4 3032.5 L1619.5 3032.5 L1621.0 3032.5 L1622.5 3032.5 L1624.0 3032.5 L1624.2 3032.5 L1625.5 3032.8 L1627.0 3033.2 L1628.5 3033.5 L1630.0 3033.9 L1631.5 3034.3 L1633.0 3034.7 L1634.5 3035.0 L1635.8 3035.4 L1636.0 3034.6 L1637.5 3028.3 L1638.7 3023.0 L1639.0 3021.0 L1640.5 3009.9 L1641.6 3001.3 L1642.0 3000.3 L1643.5 2996.2 L1644.5 2993.3 L1645.0 2994.8 L1646.5 3000.0 L1647.4 3003.2 L1648.0 3006.9 L1649.5 3017.1 L1650.3 3022.8 L1651.0 3025.0 L1652.5 3030.1 L1654.0 3035.1 L1655.5 3040.2 L1656.2 3042.4 L1657.0 3043.7 L1658.5 3046.0 L1660.0 3048.2 L1661.5 3050.5 L1663.0 3052.7 L1663.4 3053.4 L1664.5 3053.7 L1666.0 3054.2 L1667.5 3054.7 L1669.0 3055.2 L1670.5 3055.6 L1670.7 3055.7 L1672.0 3055.4 L1673.5 3055.1 L1675.0 3054.8 L1676.5 3054.5 L1677.9 3054.2 L1678.0 3054.0 L1679.5 3050.5 L1681.0 3047.0 L1682.3 3044.0 L1682.5 3043.2 L1684.0 3037.9 L1685.5 3032.6 L1687.0 3027.3 L1688.1 3023.4 L1688.5 3021.3 L1690.0 3013.4 L1691.5 3005.6 L1692.5 3000.7 L1693.0 2998.7 L1694.5 2993.5 L1696.0 2988.2 L1696.2 2987.5 L1697.5 2991.0 L1699.0 2995.2 L1699.7 2997.2 L1700.5 3001.5 L1702.0 3009.6 L1703.5 3017.7 L1704.1 3020.7 L1705.0 3026.2 L1706.5 3035.1 L1707.0 3037.8 L1708.0 3039.3 L1709.3 3041.2 L1712.8 3025.2 L1717.1 3004.9 L1720.9 2990.4 L1724.4 3004.9 L1727.3 3017.9 L1737.5 3022.3 L1752.0 3036.8 L1763.6 3047.0 L1783.9 3051.3 L1801.9 3048.4" stroke="#ff4848" stroke-width="5.3"/>
<rect x="204.7" y="1802.8" width="1599.1" height="1286.9" fill="none" stroke="#000" stroke-width="4.6"/>
<path d="M205.0 3089.7 v26.0 M319.9 3089.7 v13.5 M434.8 3089.7 v26.0 M549.7 3089.7 v13.5 M664.6 3089.7 v26.0 M779.5 3089.7 v13.5 M894.4 3089.7 v26.0 M1009.3 3089.7 v13.5 M1124.2 3089.7 v26.0 M1239.1 3089.7 v13.5 M1354.0 3089.7 v26.0 M1468.9 3089.7 v13.5 M1583.8 3089.7 v26.0 M1698.7 3089.7 v13.5 " stroke="#000" stroke-width="4.6" fill="none"/>
<text class="tk" x="203.5" y="3174.0">4000</text>
<text class="tk" x="433.3" y="3174.0">3500</text>
<text class="tk" x="663.1" y="3174.0">3000</text>
<text class="tk" x="892.9" y="3174.0">2500</text>
<text class="tk" x="1122.7" y="3174.0">2000</text>
<text class="tk" x="1352.5" y="3174.0">1500</text>
<text class="tk" x="1582.3" y="3174.0">1000</text>
</g>
<polygon points="-16.2,-128.3 16.2,-128.3 16.2,-33.0 31.5,-33.0 0.0,0.0 -31.5,-33.0 -16.2,-33.0" fill="#0089a2" transform="translate(689.9 383.7) rotate(0.0)"/>
<polygon points="-16.2,-128.3 16.2,-128.3 16.2,-33.0 31.5,-33.0 0.0,0.0 -31.5,-33.0 -16.2,-33.0" fill="#0089a2" transform="translate(1398.6 339.5) rotate(0.0)"/>
<polygon points="-16.2,-128.3 16.2,-128.3 16.2,-33.0 31.5,-33.0 0.0,0.0 -31.5,-33.0 -16.2,-33.0" fill="#0089a2" transform="translate(1203.9 257.0) rotate(-40.3)"/>
<polygon points="-16.2,-128.3 16.2,-128.3 16.2,-33.0 31.5,-33.0 0.0,0.0 -31.5,-33.0 -16.2,-33.0" fill="#0089a2" transform="translate(1564.2 120.2) rotate(75.5)"/>
<text class="nm" x="654" y="219.4" textLength="88" lengthAdjust="spacingAndGlyphs">5,6</text>
<text class="nm" x="1143" y="108.2">4</text>
<text class="nm" x="1351" y="185.5" textLength="89" lengthAdjust="spacingAndGlyphs">2,3</text>
<text class="nm" x="1708" y="129">1</text>
<text class="lb" x="245" y="365.8">PLA</text>
<text class="lb" x="245" y="740.5">PLA/TiO<tspan font-size="44" dy="18">2</tspan><tspan dy="-18"> 90/10</tspan></text>
<text class="lb" x="245" y="1183.6" letter-spacing="-0.36">PLA/ZnO 90/10</text>
<text class="lb" x="256" y="2085.8">PLA</text>
<text class="lb" x="260" y="2371">PLA/PEG2k 90/10</text>
<text class="lb" x="240" y="2673.5" letter-spacing="-0.35">PLA/TiO<tspan font-size="44" dy="18">2</tspan><tspan dy="-18">/PEG2k 80/10/10</tspan></text>
<text class="lb" x="238" y="3004" letter-spacing="-0.47">PLA/ZnO/PEG2k 80/10/10</text>
<text class="ax" y="1521.4"><tspan x="673.5" letter-spacing="-0.45">Wavenumbers</tspan><tspan x="1151.5"> </tspan><tspan x="1151.5">(cm</tspan><tspan x="1264" dy="-33.8" font-size="42">-1</tspan><tspan x="1308.5" dy="33.8">)</tspan></text>
<text class="ax" y="3291.0"><tspan x="673.5" letter-spacing="-0.45">Wavenumbers</tspan><tspan x="1151.5"> </tspan><tspan x="1151.5">(cm</tspan><tspan x="1264" dy="-33.8" font-size="42">-1</tspan><tspan x="1308.5" dy="33.8">)</tspan></text>
<text class="ax" transform="translate(99.3 864) rotate(-90)">Intensity (a.u.)</text>
<text class="ax" transform="translate(99.3 2630) rotate(-90)">Intensity (a.u.)</text>
<text class="pn" x="186" y="1656.6">(a)</text>
<text class="pn" x="182.5" y="3425.6" letter-spacing="-0.7">(b)</text>
</svg></body></html>
